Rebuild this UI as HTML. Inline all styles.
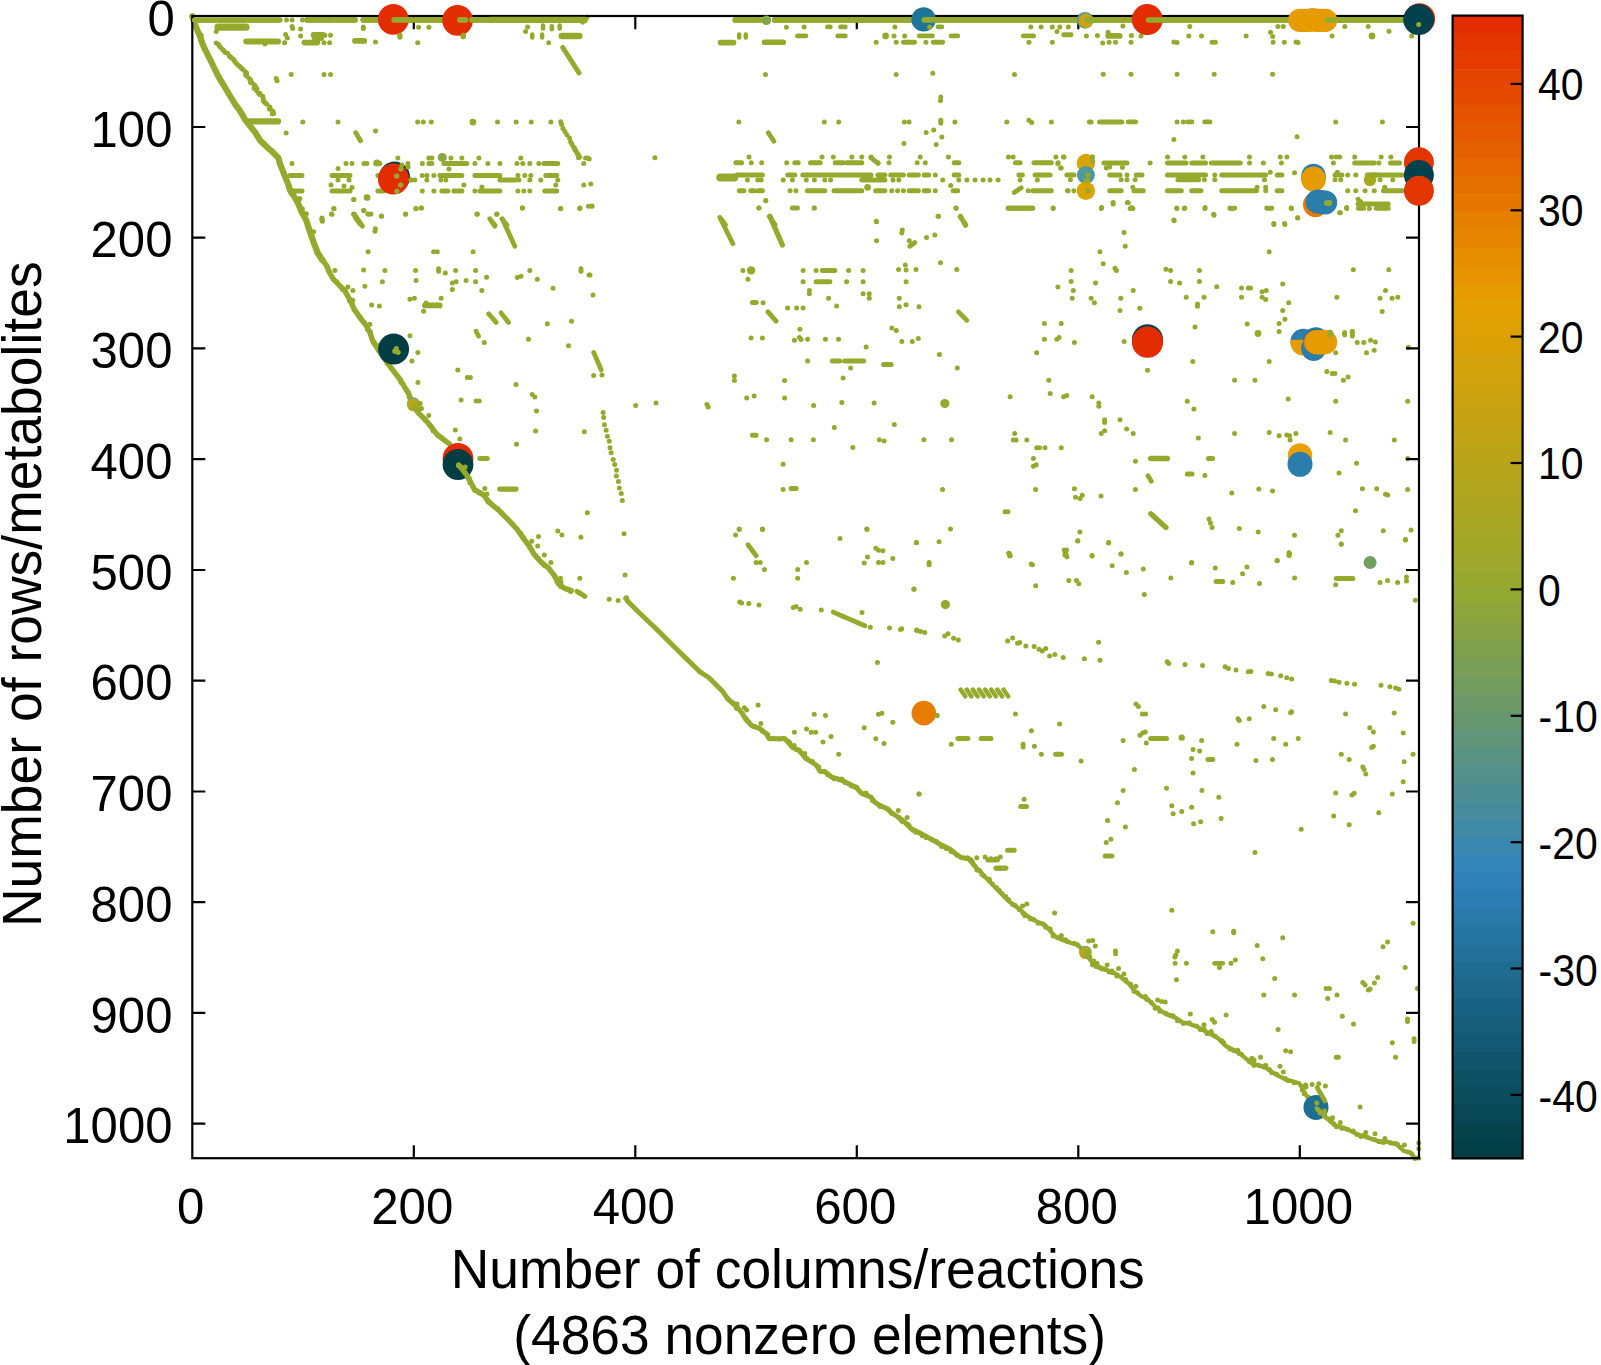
<!DOCTYPE html><html><head><meta charset="utf-8"><title>Sparsity pattern</title>
<style>html,body{margin:0;padding:0;background:#fff}svg{display:block}text{font-family:"Liberation Sans",sans-serif;fill:#000}</style></head><body>
<svg width="1601" height="1365" viewBox="0 0 1601 1365">
<rect width="1601" height="1365" fill="#fff"/>
<g fill="#95A92D">
<circle cx="286.5" cy="19.9" r="2.5"/>
<circle cx="292.1" cy="19.9" r="2.5"/>
<circle cx="302.4" cy="19.9" r="2.5"/>
<circle cx="216.2" cy="31.5" r="2.5"/>
<circle cx="201.2" cy="35.3" r="2.5"/>
<circle cx="265" cy="44.1" r="2.5"/>
<circle cx="285.6" cy="34.4" r="2.5"/>
<circle cx="287.4" cy="38.1" r="2.5"/>
<circle cx="284.6" cy="42.8" r="2.5"/>
<circle cx="292.1" cy="26.5" r="2.5"/>
<circle cx="292.7" cy="28.4" r="2.5"/>
<circle cx="300.6" cy="29.1" r="2.5"/>
<circle cx="300.6" cy="35.9" r="2.5"/>
<circle cx="324.9" cy="35.3" r="2.5"/>
<circle cx="330.5" cy="35.3" r="2.5"/>
<circle cx="324" cy="42.8" r="2.5"/>
<circle cx="329.6" cy="42.8" r="2.5"/>
<circle cx="375.5" cy="41.9" r="2.5"/>
<circle cx="363.3" cy="26.9" r="2.5"/>
<circle cx="363.3" cy="28.4" r="2.5"/>
<circle cx="399.9" cy="35.3" r="2.5"/>
<circle cx="399.9" cy="37.2" r="2.5"/>
<circle cx="417.7" cy="42.8" r="2.5"/>
<circle cx="418.6" cy="27.2" r="2.5"/>
<circle cx="428.9" cy="27.2" r="2.5"/>
<circle cx="463.2" cy="35.3" r="2.5"/>
<circle cx="463.2" cy="36.8" r="2.5"/>
<circle cx="216.2" cy="42.9" r="2.5"/>
<circle cx="218.3" cy="44.3" r="2.5"/>
<circle cx="219.4" cy="46.1" r="2.5"/>
<circle cx="220.6" cy="47.5" r="2.5"/>
<circle cx="222.7" cy="49.5" r="2.5"/>
<circle cx="223.6" cy="50.4" r="2.5"/>
<circle cx="225.2" cy="52.6" r="2.5"/>
<circle cx="227.5" cy="53.3" r="2.5"/>
<circle cx="229.4" cy="56" r="2.5"/>
<circle cx="230.6" cy="57.1" r="2.5"/>
<circle cx="231.6" cy="58" r="2.5"/>
<circle cx="233.6" cy="59.6" r="2.5"/>
<circle cx="234.8" cy="61.4" r="2.5"/>
<circle cx="236.2" cy="63.3" r="2.5"/>
<circle cx="238.3" cy="65.3" r="2.5"/>
<circle cx="239.9" cy="66.6" r="2.5"/>
<circle cx="241.5" cy="68.2" r="2.5"/>
<circle cx="243" cy="69.4" r="2.5"/>
<circle cx="245.2" cy="71.8" r="2.5"/>
<circle cx="246.6" cy="73" r="2.5"/>
<circle cx="245.7" cy="74.9" r="2.5"/>
<circle cx="246.8" cy="76" r="2.5"/>
<circle cx="249.2" cy="78.4" r="2.5"/>
<circle cx="250.5" cy="79.9" r="2.5"/>
<circle cx="251.9" cy="82.6" r="2.5"/>
<circle cx="250.5" cy="82.5" r="2.5"/>
<circle cx="254" cy="84.7" r="2.5"/>
<circle cx="255.3" cy="86.1" r="2.5"/>
<circle cx="254.1" cy="88.2" r="2.5"/>
<circle cx="257.1" cy="88.8" r="2.5"/>
<circle cx="256.4" cy="90.5" r="2.5"/>
<circle cx="259.8" cy="93.2" r="2.5"/>
<circle cx="258.7" cy="93.4" r="2.5"/>
<circle cx="259.8" cy="94.4" r="2.5"/>
<circle cx="262.7" cy="96.3" r="2.5"/>
<circle cx="263.2" cy="98.5" r="2.5"/>
<circle cx="263.4" cy="100.8" r="2.5"/>
<circle cx="264.4" cy="102.1" r="2.5"/>
<circle cx="265.5" cy="103" r="2.5"/>
<circle cx="266.8" cy="104.2" r="2.5"/>
<circle cx="269.9" cy="107.1" r="2.5"/>
<circle cx="269.3" cy="108.9" r="2.5"/>
<circle cx="270.2" cy="109.1" r="2.5"/>
<circle cx="273" cy="111.3" r="2.5"/>
<circle cx="272.2" cy="113.7" r="2.5"/>
<circle cx="273.6" cy="113.4" r="2.5"/>
<circle cx="291.2" cy="74.6" r="2.5"/>
<circle cx="324" cy="74.6" r="2.5"/>
<circle cx="330.5" cy="74.6" r="2.5"/>
<circle cx="276.2" cy="78.4" r="2.5"/>
<circle cx="277.1" cy="80.8" r="2.5"/>
<circle cx="302.8" cy="122.1" r="2.5"/>
<circle cx="338" cy="122.1" r="2.5"/>
<circle cx="417.7" cy="122.1" r="2.5"/>
<circle cx="423.3" cy="122.1" r="2.5"/>
<circle cx="431.3" cy="122.1" r="2.5"/>
<circle cx="286.1" cy="133.1" r="2.5"/>
<circle cx="375.5" cy="130.9" r="2.5"/>
<circle cx="472.9" cy="122.1" r="3.4"/>
<circle cx="518.1" cy="19.9" r="3.2"/>
<circle cx="751.4" cy="19.4" r="3"/>
<circle cx="527.5" cy="26.9" r="2.5"/>
<circle cx="525.6" cy="31.5" r="2.5"/>
<circle cx="548.7" cy="42.8" r="2.5"/>
<circle cx="786.4" cy="27.2" r="2.5"/>
<circle cx="765.5" cy="74.6" r="2.5"/>
<circle cx="738.8" cy="122.1" r="2.5"/>
<circle cx="654.9" cy="157.7" r="2.5"/>
<circle cx="497.5" cy="122.1" r="2.5"/>
<circle cx="516.2" cy="122.1" r="2.5"/>
<circle cx="531.2" cy="122.1" r="2.5"/>
<circle cx="550.9" cy="122.1" r="2.5"/>
<circle cx="585.6" cy="158" r="2.5"/>
<circle cx="589.3" cy="159" r="2.5"/>
<circle cx="560.7" cy="121.8" r="2.5"/>
<circle cx="561.6" cy="124.6" r="2.5"/>
<circle cx="563" cy="128.6" r="2.5"/>
<circle cx="565" cy="131.8" r="2.5"/>
<circle cx="566.9" cy="134.7" r="2.5"/>
<circle cx="569.5" cy="138" r="2.5"/>
<circle cx="570.6" cy="141.8" r="2.5"/>
<circle cx="571.7" cy="143.8" r="2.5"/>
<circle cx="574.5" cy="148" r="2.5"/>
<circle cx="575.2" cy="150.2" r="2.5"/>
<circle cx="577.7" cy="154.6" r="2.5"/>
<circle cx="578.5" cy="157.8" r="2.5"/>
<circle cx="804.1" cy="26.9" r="2.5"/>
<circle cx="894.9" cy="26.9" r="2.5"/>
<circle cx="929.6" cy="26.9" r="2.5"/>
<circle cx="1030.8" cy="26.9" r="2.5"/>
<circle cx="1041.1" cy="26.9" r="2.5"/>
<circle cx="1052.3" cy="26.9" r="2.5"/>
<circle cx="1059.8" cy="26.9" r="2.5"/>
<circle cx="1068.3" cy="26.9" r="2.5"/>
<circle cx="894" cy="35.9" r="2.5"/>
<circle cx="904.7" cy="35.9" r="2.5"/>
<circle cx="1086.4" cy="35.9" r="2.5"/>
<circle cx="885.6" cy="35.9" r="3.4"/>
<circle cx="1057" cy="31.5" r="2.5"/>
<circle cx="876.2" cy="42.2" r="2.5"/>
<circle cx="896.2" cy="42.2" r="2.5"/>
<circle cx="925.9" cy="42.2" r="2.5"/>
<circle cx="1028.9" cy="42.2" r="2.5"/>
<circle cx="1052.3" cy="42.2" r="2.5"/>
<circle cx="896.2" cy="74.6" r="2.5"/>
<circle cx="932.8" cy="73.3" r="2.5"/>
<circle cx="1014.5" cy="74.6" r="2.5"/>
<circle cx="940.8" cy="97.1" r="2.5"/>
<circle cx="940.5" cy="100.5" r="2.5"/>
<circle cx="824.3" cy="122.1" r="2.5"/>
<circle cx="838.7" cy="122.1" r="2.5"/>
<circle cx="904.3" cy="122.1" r="2.5"/>
<circle cx="909" cy="122.1" r="2.5"/>
<circle cx="954.9" cy="122.1" r="2.5"/>
<circle cx="1006.8" cy="122.1" r="2.5"/>
<circle cx="1028.9" cy="120.2" r="2.5"/>
<circle cx="1031.7" cy="122.4" r="2.5"/>
<circle cx="1051.4" cy="122.1" r="2.5"/>
<circle cx="1089.4" cy="122.1" r="2.5"/>
<circle cx="926.2" cy="132.4" r="2.5"/>
<circle cx="933.7" cy="129.9" r="2.5"/>
<circle cx="941.8" cy="136.9" r="2.5"/>
<circle cx="903.9" cy="143.4" r="2.5"/>
<circle cx="936.2" cy="144.4" r="2.5"/>
<circle cx="1122.9" cy="25.9" r="2.5"/>
<circle cx="1189.8" cy="26.6" r="2.5"/>
<circle cx="1277.9" cy="26.6" r="2.5"/>
<circle cx="1283.3" cy="26.6" r="2.5"/>
<circle cx="1344.8" cy="26.6" r="2.5"/>
<circle cx="1368.2" cy="26.6" r="2.5"/>
<circle cx="1389" cy="31.2" r="2.5"/>
<circle cx="1097.4" cy="35.5" r="2.5"/>
<circle cx="1108.1" cy="32.3" r="2.5"/>
<circle cx="1131.4" cy="35.5" r="2.5"/>
<circle cx="1141" cy="35.9" r="2.5"/>
<circle cx="1188.8" cy="35.9" r="2.5"/>
<circle cx="1201.5" cy="35.9" r="2.5"/>
<circle cx="1246.1" cy="35.9" r="2.5"/>
<circle cx="1270.5" cy="32.3" r="2.5"/>
<circle cx="1272.6" cy="36.5" r="2.5"/>
<circle cx="1332.1" cy="35.9" r="2.5"/>
<circle cx="1411.7" cy="35.9" r="2.5"/>
<circle cx="1102.7" cy="42.9" r="2.5"/>
<circle cx="1109.1" cy="42.3" r="2.5"/>
<circle cx="1115.5" cy="42.3" r="2.5"/>
<circle cx="1131" cy="42.3" r="2.5"/>
<circle cx="1173.9" cy="41.9" r="2.5"/>
<circle cx="1177.1" cy="42.5" r="2.5"/>
<circle cx="1212.1" cy="42.3" r="2.5"/>
<circle cx="1215.3" cy="42.3" r="2.5"/>
<circle cx="1273.1" cy="42.3" r="2.5"/>
<circle cx="1284.3" cy="42.3" r="2.5"/>
<circle cx="1296" cy="41.9" r="2.5"/>
<circle cx="1298.1" cy="42.5" r="2.5"/>
<circle cx="1372" cy="35.9" r="3.4"/>
<circle cx="1103.2" cy="74.3" r="2.5"/>
<circle cx="1131" cy="74.3" r="2.5"/>
<circle cx="1177.1" cy="74.3" r="2.5"/>
<circle cx="1214.2" cy="74.3" r="2.5"/>
<circle cx="1272.6" cy="74.3" r="2.5"/>
<circle cx="1335.7" cy="121.9" r="2.5"/>
<circle cx="1382.4" cy="121.9" r="2.5"/>
<circle cx="1173.9" cy="139.5" r="2.5"/>
<circle cx="1297.1" cy="136.8" r="2.5"/>
<circle cx="1091.1" cy="121.9" r="2.5"/>
<circle cx="1177.1" cy="121.9" r="2.5"/>
<circle cx="1183.4" cy="121.9" r="2.5"/>
<circle cx="397.9" cy="158" r="2.5"/>
<circle cx="428.9" cy="158" r="2.5"/>
<circle cx="431.9" cy="158" r="2.5"/>
<circle cx="450.9" cy="158" r="2.5"/>
<circle cx="461.9" cy="158" r="2.5"/>
<circle cx="478.9" cy="158" r="2.5"/>
<circle cx="520.8" cy="158" r="2.5"/>
<circle cx="587.8" cy="158" r="2.5"/>
<circle cx="292" cy="163.4" r="2.5"/>
<circle cx="346" cy="163.4" r="2.5"/>
<circle cx="352" cy="163.4" r="2.5"/>
<circle cx="363.9" cy="163.4" r="2.5"/>
<circle cx="366.9" cy="163.4" r="2.5"/>
<circle cx="407.9" cy="163.4" r="2.5"/>
<circle cx="422.3" cy="163.4" r="2.5"/>
<circle cx="474.9" cy="163.4" r="2.5"/>
<circle cx="487.9" cy="163.4" r="2.5"/>
<circle cx="499.9" cy="163.4" r="2.5"/>
<circle cx="516.9" cy="163.4" r="2.5"/>
<circle cx="522.8" cy="163.4" r="2.5"/>
<circle cx="529.8" cy="163.4" r="2.5"/>
<circle cx="538.8" cy="163.4" r="2.5"/>
<circle cx="583.8" cy="163.4" r="2.5"/>
<circle cx="377.9" cy="175.4" r="2.5"/>
<circle cx="422.3" cy="175.4" r="2.5"/>
<circle cx="426.9" cy="175.4" r="2.5"/>
<circle cx="433.9" cy="175.4" r="2.5"/>
<circle cx="517.9" cy="175.4" r="2.5"/>
<circle cx="524.8" cy="175.4" r="2.5"/>
<circle cx="530.8" cy="175.4" r="2.5"/>
<circle cx="338" cy="180" r="2.5"/>
<circle cx="349" cy="180" r="2.5"/>
<circle cx="410.9" cy="180" r="2.5"/>
<circle cx="414.9" cy="180" r="2.5"/>
<circle cx="426.9" cy="180" r="2.5"/>
<circle cx="440.9" cy="180" r="2.5"/>
<circle cx="445.9" cy="180" r="2.5"/>
<circle cx="518.9" cy="180" r="2.5"/>
<circle cx="529.8" cy="180" r="2.5"/>
<circle cx="540.8" cy="180" r="2.5"/>
<circle cx="557.8" cy="180" r="2.5"/>
<circle cx="422.3" cy="191" r="2.5"/>
<circle cx="433.9" cy="191" r="2.5"/>
<circle cx="474.9" cy="191" r="2.5"/>
<circle cx="517.9" cy="191" r="2.5"/>
<circle cx="523.8" cy="191" r="2.5"/>
<circle cx="529.8" cy="191" r="2.5"/>
<circle cx="338" cy="168.6" r="2.5"/>
<circle cx="448.9" cy="169" r="2.5"/>
<circle cx="344" cy="186" r="2.5"/>
<circle cx="352" cy="187.4" r="2.5"/>
<circle cx="331" cy="185" r="2.5"/>
<circle cx="463.9" cy="185" r="2.5"/>
<circle cx="481.9" cy="187" r="2.5"/>
<circle cx="555.8" cy="185" r="2.5"/>
<circle cx="583.8" cy="185" r="2.5"/>
<circle cx="590.8" cy="184" r="2.5"/>
<circle cx="354" cy="199.4" r="2.5"/>
<circle cx="400.9" cy="169" r="2.5"/>
<circle cx="407.9" cy="167" r="2.5"/>
<circle cx="396.9" cy="176" r="2.5"/>
<circle cx="400.9" cy="185" r="2.5"/>
<circle cx="396.9" cy="191" r="2.5"/>
<circle cx="366.9" cy="197.4" r="3.2"/>
<circle cx="376.9" cy="163" r="3.4"/>
<circle cx="334" cy="208.6" r="2.5"/>
<circle cx="331.6" cy="214" r="2.5"/>
<circle cx="322" cy="218" r="2.5"/>
<circle cx="322" cy="220.6" r="2.5"/>
<circle cx="363.9" cy="210.6" r="2.5"/>
<circle cx="354" cy="214" r="2.5"/>
<circle cx="367.9" cy="214" r="2.5"/>
<circle cx="370.9" cy="214" r="2.5"/>
<circle cx="381.5" cy="216" r="2.5"/>
<circle cx="405.5" cy="214" r="2.5"/>
<circle cx="415.9" cy="208.6" r="2.5"/>
<circle cx="421.5" cy="208" r="2.5"/>
<circle cx="476.9" cy="214" r="2.5"/>
<circle cx="496.9" cy="214" r="2.5"/>
<circle cx="522.4" cy="208" r="2.5"/>
<circle cx="560.8" cy="208.6" r="2.5"/>
<circle cx="579.8" cy="208.6" r="2.5"/>
<circle cx="591.8" cy="206" r="2.5"/>
<circle cx="749" cy="157" r="2.5"/>
<circle cx="822" cy="157" r="2.5"/>
<circle cx="833.3" cy="157" r="2.5"/>
<circle cx="851.8" cy="157" r="2.5"/>
<circle cx="861.8" cy="157" r="2.5"/>
<circle cx="871" cy="157" r="2.5"/>
<circle cx="889.5" cy="157" r="2.5"/>
<circle cx="920.2" cy="157" r="2.5"/>
<circle cx="948.4" cy="157" r="2.5"/>
<circle cx="1008.5" cy="157" r="2.5"/>
<circle cx="1013.1" cy="157" r="2.5"/>
<circle cx="1055.9" cy="157" r="2.5"/>
<circle cx="1064" cy="157" r="2.5"/>
<circle cx="751.3" cy="162.8" r="2.5"/>
<circle cx="761.7" cy="162.8" r="2.5"/>
<circle cx="786.7" cy="162.8" r="2.5"/>
<circle cx="878" cy="162.8" r="2.5"/>
<circle cx="889" cy="162.8" r="2.5"/>
<circle cx="917.2" cy="162.8" r="2.5"/>
<circle cx="925.3" cy="162.8" r="2.5"/>
<circle cx="1058.2" cy="162.8" r="2.5"/>
<circle cx="935.3" cy="175" r="2.5"/>
<circle cx="747.4" cy="180.1" r="2.5"/>
<circle cx="757.8" cy="180.1" r="2.5"/>
<circle cx="761.2" cy="180.1" r="2.5"/>
<circle cx="783.2" cy="180.1" r="2.5"/>
<circle cx="792.4" cy="180.1" r="2.5"/>
<circle cx="806.3" cy="180.1" r="2.5"/>
<circle cx="814.4" cy="180.1" r="2.5"/>
<circle cx="824.8" cy="180.1" r="2.5"/>
<circle cx="830.6" cy="180.1" r="2.5"/>
<circle cx="893" cy="180.1" r="2.5"/>
<circle cx="898.8" cy="180.1" r="2.5"/>
<circle cx="942.7" cy="180.1" r="2.5"/>
<circle cx="958.8" cy="180.1" r="2.5"/>
<circle cx="966.9" cy="180.1" r="2.5"/>
<circle cx="975" cy="180.1" r="2.5"/>
<circle cx="983.1" cy="180.1" r="2.5"/>
<circle cx="990" cy="180.1" r="2.5"/>
<circle cx="998.1" cy="180.1" r="2.5"/>
<circle cx="1020.1" cy="180.1" r="2.5"/>
<circle cx="1037.4" cy="180.1" r="2.5"/>
<circle cx="790.1" cy="190.8" r="2.5"/>
<circle cx="795.9" cy="190.8" r="2.5"/>
<circle cx="891.8" cy="190.8" r="2.5"/>
<circle cx="897.6" cy="190.8" r="2.5"/>
<circle cx="903.4" cy="190.8" r="2.5"/>
<circle cx="935.3" cy="190.8" r="2.5"/>
<circle cx="1028.2" cy="190.8" r="2.5"/>
<circle cx="1067.5" cy="190.8" r="2.5"/>
<circle cx="867.6" cy="187.3" r="3.4"/>
<circle cx="758.9" cy="207.9" r="2.5"/>
<circle cx="814.4" cy="207.9" r="2.5"/>
<circle cx="956.1" cy="207.9" r="2.5"/>
<circle cx="1053.1" cy="207.9" r="2.5"/>
<circle cx="765.9" cy="200.5" r="2.5"/>
<circle cx="950.7" cy="185.4" r="2.5"/>
<circle cx="938" cy="216.2" r="2.5"/>
<circle cx="876.3" cy="221.3" r="2.5"/>
<circle cx="1057.8" cy="163.5" r="2.5"/>
<circle cx="1060.5" cy="168.1" r="2.5"/>
<circle cx="1063.5" cy="157" r="2.5"/>
<circle cx="1092.4" cy="157" r="2.5"/>
<circle cx="1167.5" cy="157" r="2.5"/>
<circle cx="1184.8" cy="157" r="2.5"/>
<circle cx="1202.8" cy="157" r="2.5"/>
<circle cx="1249.5" cy="157" r="2.5"/>
<circle cx="1280.2" cy="157" r="2.5"/>
<circle cx="1286.9" cy="157" r="2.5"/>
<circle cx="1331.5" cy="157" r="2.5"/>
<circle cx="1336.2" cy="157" r="2.5"/>
<circle cx="1339.6" cy="157" r="2.5"/>
<circle cx="1354.7" cy="157" r="2.5"/>
<circle cx="1381.2" cy="157" r="2.5"/>
<circle cx="1390.9" cy="157" r="2.5"/>
<circle cx="1150.1" cy="163" r="2.5"/>
<circle cx="1249.5" cy="163" r="2.5"/>
<circle cx="1263.4" cy="163" r="2.5"/>
<circle cx="1281.4" cy="163" r="2.5"/>
<circle cx="1333.4" cy="163" r="2.5"/>
<circle cx="1378.9" cy="163" r="2.5"/>
<circle cx="1106.2" cy="168.1" r="2.5"/>
<circle cx="1109.7" cy="167" r="2.5"/>
<circle cx="1122.4" cy="167.6" r="2.5"/>
<circle cx="1092.4" cy="161.2" r="2.5"/>
<circle cx="1061.2" cy="168.1" r="2.5"/>
<circle cx="1127" cy="175" r="2.5"/>
<circle cx="1214.8" cy="175" r="2.5"/>
<circle cx="1347.7" cy="175" r="2.5"/>
<circle cx="1355.8" cy="175" r="2.5"/>
<circle cx="1294.6" cy="172.7" r="2.5"/>
<circle cx="1270.3" cy="172.3" r="2.5"/>
<circle cx="1070.4" cy="179.7" r="2.5"/>
<circle cx="1087.7" cy="179.7" r="2.5"/>
<circle cx="1121.2" cy="179.7" r="2.5"/>
<circle cx="1127" cy="179.7" r="2.5"/>
<circle cx="1135.1" cy="179.7" r="2.5"/>
<circle cx="1204.4" cy="179.7" r="2.5"/>
<circle cx="1214.8" cy="179.7" r="2.5"/>
<circle cx="1264.5" cy="179.7" r="2.5"/>
<circle cx="1335" cy="179.7" r="2.5"/>
<circle cx="1340.8" cy="179.7" r="2.5"/>
<circle cx="1380.1" cy="179.7" r="2.5"/>
<circle cx="1392.8" cy="179.7" r="2.5"/>
<circle cx="1068.1" cy="190.8" r="2.5"/>
<circle cx="1073.9" cy="190.8" r="2.5"/>
<circle cx="1265.7" cy="190.8" r="2.5"/>
<circle cx="1347.7" cy="190.8" r="2.5"/>
<circle cx="1355.8" cy="190.8" r="2.5"/>
<circle cx="1365.1" cy="190.8" r="2.5"/>
<circle cx="1374.3" cy="190.8" r="2.5"/>
<circle cx="1132.8" cy="187.3" r="2.5"/>
<circle cx="1257.1" cy="187.3" r="2.5"/>
<circle cx="1265.7" cy="187.3" r="2.5"/>
<circle cx="1337.3" cy="172.3" r="2.5"/>
<circle cx="1384.7" cy="187.3" r="2.5"/>
<circle cx="1101.6" cy="207.4" r="2.5"/>
<circle cx="1113.2" cy="203.9" r="2.5"/>
<circle cx="1128.2" cy="202.8" r="2.5"/>
<circle cx="1131.6" cy="207.4" r="2.5"/>
<circle cx="1176.7" cy="207.9" r="2.5"/>
<circle cx="1184.8" cy="207.9" r="2.5"/>
<circle cx="1205.1" cy="207.4" r="2.5"/>
<circle cx="1229.9" cy="207.9" r="2.5"/>
<circle cx="1234.5" cy="207.9" r="2.5"/>
<circle cx="1266.8" cy="207.9" r="2.5"/>
<circle cx="1271.5" cy="207.9" r="2.5"/>
<circle cx="1291.1" cy="207.9" r="2.5"/>
<circle cx="1346.6" cy="207.4" r="2.5"/>
<circle cx="1339.6" cy="212.7" r="2.5"/>
<circle cx="1213.7" cy="214.3" r="2.5"/>
<circle cx="1173.9" cy="220.1" r="2.5"/>
<circle cx="1297.6" cy="217.8" r="2.5"/>
<circle cx="1273.8" cy="223.6" r="2.5"/>
<circle cx="1284.6" cy="223.6" r="2.5"/>
<circle cx="1358.1" cy="199.3" r="2.5"/>
<circle cx="1360.4" cy="201.6" r="2.5"/>
<circle cx="1361.6" cy="206.9" r="2.5"/>
<circle cx="353.6" cy="199.5" r="2.5"/>
<circle cx="333.7" cy="208.7" r="2.5"/>
<circle cx="331.9" cy="214.2" r="2.5"/>
<circle cx="321.9" cy="218.7" r="2.5"/>
<circle cx="322.4" cy="221.2" r="2.5"/>
<circle cx="353.6" cy="214.2" r="2.5"/>
<circle cx="363.6" cy="210.5" r="2.5"/>
<circle cx="369.4" cy="214.2" r="2.5"/>
<circle cx="381.6" cy="216.2" r="2.5"/>
<circle cx="405.6" cy="214.2" r="2.5"/>
<circle cx="416.1" cy="208.7" r="2.5"/>
<circle cx="421.1" cy="208" r="2.5"/>
<circle cx="375.4" cy="228.7" r="2.5"/>
<circle cx="374.9" cy="231.2" r="2.5"/>
<circle cx="477.3" cy="214.2" r="2.5"/>
<circle cx="496.8" cy="214.2" r="2.5"/>
<circle cx="522.3" cy="208" r="2.5"/>
<circle cx="560.5" cy="208.7" r="2.5"/>
<circle cx="579.8" cy="208" r="2.5"/>
<circle cx="588.5" cy="206.2" r="2.5"/>
<circle cx="368.1" cy="251.7" r="2.5"/>
<circle cx="433.6" cy="251.7" r="2.5"/>
<circle cx="437.3" cy="251.7" r="2.5"/>
<circle cx="473.1" cy="251.7" r="2.5"/>
<circle cx="334.9" cy="270.4" r="2.5"/>
<circle cx="363.6" cy="270" r="2.5"/>
<circle cx="384.9" cy="270.4" r="2.5"/>
<circle cx="415.6" cy="270.4" r="2.5"/>
<circle cx="438.6" cy="268.7" r="2.5"/>
<circle cx="438.6" cy="271.2" r="2.5"/>
<circle cx="445.3" cy="272.9" r="2.5"/>
<circle cx="455.6" cy="270.4" r="2.5"/>
<circle cx="475.6" cy="270.4" r="2.5"/>
<circle cx="486.6" cy="277.2" r="2.5"/>
<circle cx="517.3" cy="277.4" r="2.5"/>
<circle cx="521" cy="276.2" r="2.5"/>
<circle cx="529.8" cy="270.4" r="2.5"/>
<circle cx="537.3" cy="279.2" r="2.5"/>
<circle cx="581" cy="268.7" r="2.5"/>
<circle cx="581" cy="271.2" r="2.5"/>
<circle cx="589" cy="274.9" r="2.5"/>
<circle cx="382.4" cy="281.7" r="2.5"/>
<circle cx="416.1" cy="280.4" r="2.5"/>
<circle cx="452.3" cy="282.9" r="2.5"/>
<circle cx="456.1" cy="281.7" r="2.5"/>
<circle cx="466.1" cy="280.4" r="2.5"/>
<circle cx="475.6" cy="281.7" r="2.5"/>
<circle cx="452.3" cy="289.4" r="2.5"/>
<circle cx="481.8" cy="290.4" r="2.5"/>
<circle cx="553" cy="288.2" r="2.5"/>
<circle cx="347.9" cy="286.9" r="2.5"/>
<circle cx="352.9" cy="290.4" r="2.5"/>
<circle cx="364.9" cy="286.2" r="2.5"/>
<circle cx="409.9" cy="299.2" r="2.5"/>
<circle cx="414.4" cy="298.2" r="2.5"/>
<circle cx="441.1" cy="298.2" r="2.5"/>
<circle cx="371.6" cy="304.9" r="2.5"/>
<circle cx="379.4" cy="305.9" r="2.5"/>
<circle cx="426.1" cy="302.9" r="2.5"/>
<circle cx="423.6" cy="311.2" r="2.5"/>
<circle cx="547.3" cy="323.7" r="2.5"/>
<circle cx="571.5" cy="321.2" r="2.5"/>
<circle cx="528.5" cy="339.2" r="2.5"/>
<circle cx="568.5" cy="345.7" r="2.5"/>
<circle cx="484.3" cy="342.4" r="2.5"/>
<circle cx="409.9" cy="335.7" r="2.5"/>
<circle cx="417.9" cy="352.4" r="2.5"/>
<circle cx="411.9" cy="361.1" r="2.5"/>
<circle cx="457.8" cy="369.9" r="2.5"/>
<circle cx="467.3" cy="377.4" r="2.5"/>
<circle cx="470.3" cy="377.4" r="2.5"/>
<circle cx="417.9" cy="382.4" r="2.5"/>
<circle cx="516" cy="384.4" r="2.5"/>
<circle cx="461.1" cy="399.9" r="2.5"/>
<circle cx="476.1" cy="401.1" r="2.5"/>
<circle cx="479.3" cy="401.1" r="2.5"/>
<circle cx="532.3" cy="394.4" r="2.5"/>
<circle cx="534.8" cy="396.9" r="2.5"/>
<circle cx="536.5" cy="411.1" r="2.5"/>
<circle cx="419.9" cy="403.6" r="2.5"/>
<circle cx="455.3" cy="429.9" r="2.5"/>
<circle cx="459.8" cy="439.1" r="2.5"/>
<circle cx="535.5" cy="431.1" r="2.5"/>
<circle cx="584.3" cy="431.8" r="2.5"/>
<circle cx="516.5" cy="444.3" r="2.5"/>
<circle cx="587.3" cy="512.8" r="2.5"/>
<circle cx="484.8" cy="488.6" r="2.5"/>
<circle cx="302.4" cy="208.7" r="2.5"/>
<circle cx="298.7" cy="200" r="2.5"/>
<circle cx="367.4" cy="197.5" r="3.1"/>
<circle cx="603.1" cy="412.5" r="2.5"/>
<circle cx="603.7" cy="417.6" r="2.5"/>
<circle cx="604.4" cy="424.8" r="2.5"/>
<circle cx="606.1" cy="430.2" r="2.5"/>
<circle cx="607.4" cy="436.2" r="2.5"/>
<circle cx="609.3" cy="441.2" r="2.5"/>
<circle cx="610" cy="447.7" r="2.5"/>
<circle cx="611.1" cy="452.7" r="2.5"/>
<circle cx="613.2" cy="459.6" r="2.5"/>
<circle cx="614.7" cy="464.5" r="2.5"/>
<circle cx="616.5" cy="470.2" r="2.5"/>
<circle cx="616.4" cy="476.1" r="2.5"/>
<circle cx="618.4" cy="481.6" r="2.5"/>
<circle cx="619.3" cy="487.9" r="2.5"/>
<circle cx="621.3" cy="493.4" r="2.5"/>
<circle cx="622.3" cy="500.4" r="2.5"/>
<circle cx="751.1" cy="270.4" r="4.2"/>
<circle cx="944.8" cy="403.6" r="4.6"/>
<circle cx="592" cy="206.2" r="2.5"/>
<circle cx="590" cy="274.9" r="2.5"/>
<circle cx="593" cy="294.9" r="2.5"/>
<circle cx="593.7" cy="375.6" r="2.5"/>
<circle cx="602" cy="374.9" r="2.5"/>
<circle cx="635.7" cy="405.4" r="2.5"/>
<circle cx="656" cy="403.1" r="2.5"/>
<circle cx="706.9" cy="404.4" r="2.5"/>
<circle cx="708.2" cy="406.9" r="2.5"/>
<circle cx="734.4" cy="376.1" r="2.5"/>
<circle cx="734.4" cy="380.4" r="2.5"/>
<circle cx="746.7" cy="397.9" r="2.5"/>
<circle cx="754.1" cy="396.1" r="2.5"/>
<circle cx="765.6" cy="200.7" r="2.5"/>
<circle cx="758.9" cy="208" r="2.5"/>
<circle cx="814.1" cy="208" r="2.5"/>
<circle cx="876.6" cy="221.7" r="2.5"/>
<circle cx="876.6" cy="240.7" r="2.5"/>
<circle cx="902.3" cy="230" r="2.5"/>
<circle cx="901.8" cy="233" r="2.5"/>
<circle cx="909.3" cy="240.7" r="2.5"/>
<circle cx="926.5" cy="237.5" r="2.5"/>
<circle cx="934.8" cy="235" r="2.5"/>
<circle cx="938.5" cy="216.2" r="2.5"/>
<circle cx="956" cy="208.2" r="2.5"/>
<circle cx="940.5" cy="262.7" r="2.5"/>
<circle cx="956.8" cy="269.5" r="2.5"/>
<circle cx="742.9" cy="270.4" r="2.5"/>
<circle cx="747.9" cy="279.2" r="2.5"/>
<circle cx="803.1" cy="270.4" r="2.5"/>
<circle cx="816.1" cy="270.4" r="2.5"/>
<circle cx="848.6" cy="270.4" r="2.5"/>
<circle cx="863.1" cy="270.4" r="2.5"/>
<circle cx="898.6" cy="269.5" r="2.5"/>
<circle cx="905.3" cy="265" r="2.5"/>
<circle cx="906.1" cy="270" r="2.5"/>
<circle cx="916" cy="269.5" r="2.5"/>
<circle cx="803.1" cy="281.7" r="2.5"/>
<circle cx="846.6" cy="281.7" r="2.5"/>
<circle cx="863.1" cy="281.7" r="2.5"/>
<circle cx="906.1" cy="281.7" r="2.5"/>
<circle cx="809.4" cy="290.4" r="2.5"/>
<circle cx="809.4" cy="293.7" r="2.5"/>
<circle cx="863.1" cy="293.7" r="2.5"/>
<circle cx="869.3" cy="293.7" r="2.5"/>
<circle cx="869.3" cy="298.2" r="2.5"/>
<circle cx="828.6" cy="298.2" r="2.5"/>
<circle cx="836.6" cy="305.9" r="2.5"/>
<circle cx="899.3" cy="298.2" r="2.5"/>
<circle cx="899.3" cy="306.7" r="2.5"/>
<circle cx="906.1" cy="304.7" r="2.5"/>
<circle cx="919" cy="306.7" r="2.5"/>
<circle cx="763.1" cy="302.7" r="2.5"/>
<circle cx="787.6" cy="307.9" r="2.5"/>
<circle cx="796.6" cy="307.9" r="2.5"/>
<circle cx="803.1" cy="307.9" r="2.5"/>
<circle cx="799.9" cy="329.2" r="2.5"/>
<circle cx="891.8" cy="327.9" r="2.5"/>
<circle cx="896.3" cy="330.4" r="2.5"/>
<circle cx="751.1" cy="337.9" r="2.5"/>
<circle cx="762.4" cy="337.9" r="2.5"/>
<circle cx="794.4" cy="340.2" r="2.5"/>
<circle cx="799.4" cy="337.4" r="2.5"/>
<circle cx="801.1" cy="339.4" r="2.5"/>
<circle cx="807.6" cy="339.2" r="2.5"/>
<circle cx="825.4" cy="339.2" r="2.5"/>
<circle cx="838.6" cy="339.2" r="2.5"/>
<circle cx="866.1" cy="346.9" r="2.5"/>
<circle cx="901.8" cy="341.4" r="2.5"/>
<circle cx="912.3" cy="341.4" r="2.5"/>
<circle cx="918.3" cy="338.4" r="2.5"/>
<circle cx="939.5" cy="354.6" r="2.5"/>
<circle cx="957.3" cy="367.9" r="2.5"/>
<circle cx="807.6" cy="361.1" r="2.5"/>
<circle cx="850.6" cy="367.9" r="2.5"/>
<circle cx="843.1" cy="377.9" r="2.5"/>
<circle cx="784.6" cy="380.4" r="2.5"/>
<circle cx="784.6" cy="398.1" r="2.5"/>
<circle cx="813.6" cy="405.4" r="2.5"/>
<circle cx="841.8" cy="402.4" r="2.5"/>
<circle cx="874.1" cy="403.1" r="2.5"/>
<circle cx="894.3" cy="424.4" r="2.5"/>
<circle cx="834.3" cy="427.6" r="2.5"/>
<circle cx="766.6" cy="439.8" r="2.5"/>
<circle cx="791.1" cy="439.8" r="2.5"/>
<circle cx="813.4" cy="439.8" r="2.5"/>
<circle cx="879.3" cy="439.8" r="2.5"/>
<circle cx="884.1" cy="441.1" r="2.5"/>
<circle cx="923.8" cy="439.8" r="2.5"/>
<circle cx="951.5" cy="439.8" r="2.5"/>
<circle cx="852.8" cy="447.6" r="2.5"/>
<circle cx="783.1" cy="464.3" r="2.5"/>
<circle cx="783.1" cy="489.6" r="2.5"/>
<circle cx="942.5" cy="489.6" r="2.5"/>
<circle cx="739.2" cy="529" r="2.5"/>
<circle cx="762.4" cy="529" r="2.5"/>
<circle cx="866.8" cy="529" r="2.5"/>
<circle cx="950.5" cy="529" r="2.5"/>
<circle cx="1053.2" cy="208.4" r="2.5"/>
<circle cx="1101.3" cy="208.4" r="2.5"/>
<circle cx="1130.2" cy="208.4" r="2.5"/>
<circle cx="1132.9" cy="208.4" r="2.5"/>
<circle cx="1176.9" cy="208.4" r="2.5"/>
<circle cx="1184.3" cy="208.4" r="2.5"/>
<circle cx="1204.9" cy="208.4" r="2.5"/>
<circle cx="1230.5" cy="208.4" r="2.5"/>
<circle cx="1233.2" cy="208.4" r="2.5"/>
<circle cx="1291.5" cy="208.4" r="2.5"/>
<circle cx="1346.7" cy="208.4" r="2.5"/>
<circle cx="1369.3" cy="208.4" r="2.5"/>
<circle cx="1113.1" cy="202.4" r="2.5"/>
<circle cx="1127.4" cy="202.4" r="2.5"/>
<circle cx="1359.6" cy="202.4" r="2.5"/>
<circle cx="1214" cy="215.3" r="2.5"/>
<circle cx="1174.1" cy="220.8" r="2.5"/>
<circle cx="1273.9" cy="224.4" r="2.5"/>
<circle cx="1284.9" cy="224.4" r="2.5"/>
<circle cx="1297.8" cy="218" r="2.5"/>
<circle cx="1340.4" cy="212.8" r="2.5"/>
<circle cx="1209" cy="519" r="2.5"/>
<circle cx="1210.4" cy="523.1" r="2.5"/>
<circle cx="1212.1" cy="527.5" r="2.5"/>
<circle cx="1258" cy="333.5" r="3.4"/>
<circle cx="1124.1" cy="232.6" r="2.5"/>
<circle cx="1125.2" cy="246.3" r="2.5"/>
<circle cx="1099.9" cy="251.8" r="2.5"/>
<circle cx="1269.2" cy="251.8" r="2.5"/>
<circle cx="1103.2" cy="263.7" r="2.5"/>
<circle cx="1071.1" cy="270.5" r="2.5"/>
<circle cx="1115" cy="268.3" r="2.5"/>
<circle cx="1116.4" cy="270.5" r="2.5"/>
<circle cx="1165.9" cy="269.2" r="2.5"/>
<circle cx="1170.6" cy="270.5" r="2.5"/>
<circle cx="1199.4" cy="270.5" r="2.5"/>
<circle cx="1353.3" cy="269.7" r="2.5"/>
<circle cx="1388.8" cy="269.7" r="2.5"/>
<circle cx="1071.1" cy="281.5" r="2.5"/>
<circle cx="1095.5" cy="282.9" r="2.5"/>
<circle cx="1170.6" cy="281.5" r="2.5"/>
<circle cx="1179.6" cy="282.9" r="2.5"/>
<circle cx="1199.4" cy="281.5" r="2.5"/>
<circle cx="1282.7" cy="284" r="2.5"/>
<circle cx="1057.9" cy="287" r="2.5"/>
<circle cx="1073.3" cy="290.6" r="2.5"/>
<circle cx="1133.2" cy="290.6" r="2.5"/>
<circle cx="1216.7" cy="286.7" r="2.5"/>
<circle cx="1241.5" cy="288.1" r="2.5"/>
<circle cx="1248.3" cy="288.1" r="2.5"/>
<circle cx="1250.5" cy="288.1" r="2.5"/>
<circle cx="1262.1" cy="291.7" r="2.5"/>
<circle cx="1266.2" cy="290.6" r="2.5"/>
<circle cx="1385.5" cy="290.6" r="2.5"/>
<circle cx="1072.2" cy="298.3" r="2.5"/>
<circle cx="1091.1" cy="298.3" r="2.5"/>
<circle cx="1094.4" cy="302.7" r="2.5"/>
<circle cx="1120.8" cy="298.3" r="2.5"/>
<circle cx="1186.2" cy="297.2" r="2.5"/>
<circle cx="1204.1" cy="297.2" r="2.5"/>
<circle cx="1197.5" cy="304.1" r="2.5"/>
<circle cx="1197.5" cy="306.3" r="2.5"/>
<circle cx="1241.5" cy="297.2" r="2.5"/>
<circle cx="1262.1" cy="297.2" r="2.5"/>
<circle cx="1265.7" cy="299.4" r="2.5"/>
<circle cx="1288.7" cy="302.7" r="2.5"/>
<circle cx="1336.8" cy="297.2" r="2.5"/>
<circle cx="1380" cy="298.3" r="2.5"/>
<circle cx="1392.1" cy="298.3" r="2.5"/>
<circle cx="1397.8" cy="297.2" r="2.5"/>
<circle cx="1120" cy="310.4" r="2.5"/>
<circle cx="1139.8" cy="308.2" r="2.5"/>
<circle cx="1282.7" cy="310.4" r="2.5"/>
<circle cx="1382.2" cy="311.5" r="2.5"/>
<circle cx="1284.9" cy="319.2" r="2.5"/>
<circle cx="1044.4" cy="323.6" r="2.5"/>
<circle cx="1061.2" cy="323.6" r="2.5"/>
<circle cx="1195" cy="326.9" r="2.5"/>
<circle cx="1247.2" cy="324.1" r="2.5"/>
<circle cx="1279.1" cy="323.6" r="2.5"/>
<circle cx="1279.1" cy="331.5" r="2.5"/>
<circle cx="1330.8" cy="333.5" r="2.5"/>
<circle cx="1344.5" cy="333.5" r="2.5"/>
<circle cx="1352.2" cy="331.5" r="2.5"/>
<circle cx="1352.2" cy="334.8" r="2.5"/>
<circle cx="1044.4" cy="339.2" r="2.5"/>
<circle cx="1056.8" cy="339.2" r="2.5"/>
<circle cx="1059" cy="337.6" r="2.5"/>
<circle cx="1074.4" cy="342.5" r="2.5"/>
<circle cx="1124.1" cy="341.4" r="2.5"/>
<circle cx="1357.2" cy="342.5" r="2.5"/>
<circle cx="1363.8" cy="342.5" r="2.5"/>
<circle cx="1370.6" cy="340.3" r="2.5"/>
<circle cx="1375.3" cy="342" r="2.5"/>
<circle cx="1335.7" cy="352.7" r="2.5"/>
<circle cx="1366.5" cy="352.7" r="2.5"/>
<circle cx="1374.2" cy="350.2" r="2.5"/>
<circle cx="1408.3" cy="347.2" r="2.5"/>
<circle cx="1036.7" cy="352.7" r="2.5"/>
<circle cx="1192.8" cy="361.5" r="2.5"/>
<circle cx="1269.2" cy="361.5" r="2.5"/>
<circle cx="1147.5" cy="370.3" r="2.5"/>
<circle cx="1326.9" cy="371.4" r="2.5"/>
<circle cx="1332.2" cy="373.6" r="2.5"/>
<circle cx="1334.9" cy="373.6" r="2.5"/>
<circle cx="1348.1" cy="376.9" r="2.5"/>
<circle cx="1343.4" cy="380.2" r="2.5"/>
<circle cx="1048.8" cy="380.2" r="2.5"/>
<circle cx="1234.6" cy="380.2" r="2.5"/>
<circle cx="1254.9" cy="380.2" r="2.5"/>
<circle cx="1010.1" cy="396.7" r="2.5"/>
<circle cx="1050.2" cy="393.6" r="2.5"/>
<circle cx="1063.7" cy="396.7" r="2.5"/>
<circle cx="1066.7" cy="395.6" r="2.5"/>
<circle cx="1092.2" cy="396.7" r="2.5"/>
<circle cx="1098.8" cy="403" r="2.5"/>
<circle cx="1098.8" cy="406.3" r="2.5"/>
<circle cx="1187.3" cy="401.3" r="2.5"/>
<circle cx="1193.9" cy="409" r="2.5"/>
<circle cx="1288.2" cy="398.9" r="2.5"/>
<circle cx="1335.7" cy="401.3" r="2.5"/>
<circle cx="1407.7" cy="401.3" r="2.5"/>
<circle cx="1104.6" cy="419.8" r="2.5"/>
<circle cx="1104.6" cy="422.5" r="2.5"/>
<circle cx="1120" cy="419.8" r="2.5"/>
<circle cx="1126.6" cy="429.1" r="2.5"/>
<circle cx="1133.2" cy="433.5" r="2.5"/>
<circle cx="1104.6" cy="430.7" r="2.5"/>
<circle cx="1101.3" cy="433.5" r="2.5"/>
<circle cx="1014.7" cy="433.5" r="2.5"/>
<circle cx="1013.4" cy="440.1" r="2.5"/>
<circle cx="1016.1" cy="440.1" r="2.5"/>
<circle cx="1026.8" cy="440.1" r="2.5"/>
<circle cx="1198.3" cy="437.9" r="2.5"/>
<circle cx="1234.6" cy="433.5" r="2.5"/>
<circle cx="1269.2" cy="432.4" r="2.5"/>
<circle cx="1279.1" cy="435.7" r="2.5"/>
<circle cx="1286.8" cy="435.1" r="2.5"/>
<circle cx="1289.6" cy="435.7" r="2.5"/>
<circle cx="1295.9" cy="433.5" r="2.5"/>
<circle cx="1290.1" cy="440.1" r="2.5"/>
<circle cx="1330.2" cy="432.4" r="2.5"/>
<circle cx="1345.6" cy="440.1" r="2.5"/>
<circle cx="1394.3" cy="440.1" r="2.5"/>
<circle cx="1036.7" cy="447.8" r="2.5"/>
<circle cx="1039.5" cy="447.8" r="2.5"/>
<circle cx="1045" cy="447.8" r="2.5"/>
<circle cx="1061.2" cy="447.8" r="2.5"/>
<circle cx="1033.4" cy="458.5" r="2.5"/>
<circle cx="1033.4" cy="466.2" r="2.5"/>
<circle cx="1036.2" cy="464.8" r="2.5"/>
<circle cx="1135.4" cy="461.3" r="2.5"/>
<circle cx="1356.6" cy="463.2" r="2.5"/>
<circle cx="1407.7" cy="458.5" r="2.5"/>
<circle cx="1339" cy="473.1" r="2.5"/>
<circle cx="1204.9" cy="475.5" r="2.5"/>
<circle cx="1035.6" cy="489.6" r="2.5"/>
<circle cx="1074.4" cy="488.7" r="2.5"/>
<circle cx="1075.5" cy="497.3" r="2.5"/>
<circle cx="1080.1" cy="498.4" r="2.5"/>
<circle cx="1082.3" cy="495.3" r="2.5"/>
<circle cx="1101" cy="495.9" r="2.5"/>
<circle cx="1135.4" cy="489.6" r="2.5"/>
<circle cx="1231.8" cy="493.1" r="2.5"/>
<circle cx="1258.8" cy="489" r="2.5"/>
<circle cx="1272.5" cy="490.9" r="2.5"/>
<circle cx="1362.4" cy="488.7" r="2.5"/>
<circle cx="1376.7" cy="488.7" r="2.5"/>
<circle cx="1385.5" cy="494.2" r="2.5"/>
<circle cx="1387.7" cy="495.1" r="2.5"/>
<circle cx="1407.7" cy="489.6" r="2.5"/>
<circle cx="1005.1" cy="511.8" r="2.5"/>
<circle cx="1007.9" cy="511.8" r="2.5"/>
<circle cx="1355.5" cy="510.7" r="2.5"/>
<circle cx="1079.9" cy="531.9" r="2.5"/>
<circle cx="1077.7" cy="540.7" r="2.5"/>
<circle cx="1108.7" cy="542.9" r="2.5"/>
<circle cx="1239.3" cy="528.6" r="2.5"/>
<circle cx="1258.2" cy="531.9" r="2.5"/>
<circle cx="1294.5" cy="535.2" r="2.5"/>
<circle cx="1341.2" cy="530.8" r="2.5"/>
<circle cx="1337.9" cy="535.2" r="2.5"/>
<circle cx="1341.2" cy="544.3" r="2.5"/>
<circle cx="1383.3" cy="530.8" r="2.5"/>
<circle cx="1411" cy="530" r="2.5"/>
<circle cx="1405.5" cy="539.6" r="2.5"/>
<circle cx="1008.7" cy="553.3" r="2.5"/>
<circle cx="1009.8" cy="556.1" r="2.5"/>
<circle cx="1092.2" cy="556.1" r="2.5"/>
<circle cx="1120.8" cy="554.1" r="2.5"/>
<circle cx="1289" cy="552.8" r="2.5"/>
<circle cx="1289" cy="555.5" r="2.5"/>
<circle cx="1277.2" cy="560.7" r="2.5"/>
<circle cx="1191.7" cy="562.9" r="2.5"/>
<circle cx="1031.2" cy="564" r="2.5"/>
<circle cx="739.7" cy="601.9" r="2.5"/>
<circle cx="741.6" cy="603" r="2.5"/>
<circle cx="793.3" cy="607.4" r="2.5"/>
<circle cx="796.1" cy="606.6" r="2.5"/>
<circle cx="800.2" cy="609.3" r="2.5"/>
<circle cx="821.3" cy="610.1" r="2.5"/>
<circle cx="842.8" cy="616.2" r="2.5"/>
<circle cx="870.3" cy="627.2" r="2.5"/>
<circle cx="889.5" cy="628" r="2.5"/>
<circle cx="900.5" cy="629.4" r="2.5"/>
<circle cx="917" cy="630.5" r="2.5"/>
<circle cx="609.2" cy="599.2" r="2.5"/>
<circle cx="618.2" cy="600.5" r="2.5"/>
<circle cx="626.5" cy="597.8" r="2.5"/>
<circle cx="538.5" cy="536.5" r="2.5"/>
<circle cx="557.8" cy="531" r="2.5"/>
<circle cx="561.9" cy="535.1" r="2.5"/>
<circle cx="580.9" cy="537.3" r="2.5"/>
<circle cx="624" cy="533.7" r="2.5"/>
<circle cx="537.7" cy="546.1" r="2.5"/>
<circle cx="544.3" cy="554.9" r="2.5"/>
<circle cx="550.9" cy="562.6" r="2.5"/>
<circle cx="560.5" cy="578.3" r="2.5"/>
<circle cx="579.8" cy="578.3" r="2.5"/>
<circle cx="625.1" cy="575" r="2.5"/>
<circle cx="570.7" cy="591.5" r="2.5"/>
<circle cx="578.9" cy="592.8" r="2.5"/>
<circle cx="739.2" cy="529.6" r="2.5"/>
<circle cx="762.5" cy="529.6" r="2.5"/>
<circle cx="735.6" cy="535.1" r="2.5"/>
<circle cx="756.2" cy="562.6" r="2.5"/>
<circle cx="760.3" cy="562.6" r="2.5"/>
<circle cx="764.4" cy="569.5" r="2.5"/>
<circle cx="733.4" cy="578.3" r="2.5"/>
<circle cx="797.7" cy="569.5" r="2.5"/>
<circle cx="806.5" cy="562.6" r="2.5"/>
<circle cx="797.7" cy="578.3" r="2.5"/>
<circle cx="840" cy="538.4" r="2.5"/>
<circle cx="867" cy="529.6" r="2.5"/>
<circle cx="875.8" cy="548.3" r="2.5"/>
<circle cx="878.5" cy="550.2" r="2.5"/>
<circle cx="882.9" cy="550.8" r="2.5"/>
<circle cx="867.5" cy="557.1" r="2.5"/>
<circle cx="864.2" cy="563.1" r="2.5"/>
<circle cx="878.5" cy="562.6" r="2.5"/>
<circle cx="882.9" cy="562.6" r="2.5"/>
<circle cx="892.8" cy="558.5" r="2.5"/>
<circle cx="916.2" cy="542.8" r="2.5"/>
<circle cx="914" cy="589.3" r="2.5"/>
<circle cx="748.8" cy="603.5" r="2.5"/>
<circle cx="759" cy="604.9" r="2.5"/>
<circle cx="862" cy="612.6" r="2.5"/>
<circle cx="877.4" cy="662.4" r="2.5"/>
<circle cx="758.1" cy="705" r="2.5"/>
<circle cx="744.4" cy="707.7" r="2.5"/>
<circle cx="737" cy="704.1" r="2.5"/>
<circle cx="760.9" cy="723.4" r="2.5"/>
<circle cx="814.2" cy="714.3" r="2.5"/>
<circle cx="825.5" cy="715.4" r="2.5"/>
<circle cx="794.4" cy="732.2" r="2.5"/>
<circle cx="806.5" cy="728.9" r="2.5"/>
<circle cx="811.2" cy="732.2" r="2.5"/>
<circle cx="815.6" cy="732.2" r="2.5"/>
<circle cx="831" cy="736.6" r="2.5"/>
<circle cx="823" cy="742.1" r="2.5"/>
<circle cx="838.7" cy="754.2" r="2.5"/>
<circle cx="864.2" cy="727.8" r="2.5"/>
<circle cx="875.8" cy="738.8" r="2.5"/>
<circle cx="884" cy="743.4" r="2.5"/>
<circle cx="878.5" cy="714.3" r="2.5"/>
<circle cx="881.8" cy="713.2" r="2.5"/>
<circle cx="892.8" cy="722.3" r="2.5"/>
<circle cx="918.9" cy="794" r="2.5"/>
<circle cx="898.3" cy="810.5" r="2.5"/>
<circle cx="907.1" cy="817.4" r="2.5"/>
<circle cx="945.4" cy="604.6" r="4.6"/>
<circle cx="901.7" cy="628.7" r="2.5"/>
<circle cx="916.6" cy="630" r="2.5"/>
<circle cx="920.5" cy="631.4" r="2.5"/>
<circle cx="924.8" cy="632.4" r="2.5"/>
<circle cx="944.7" cy="636" r="2.5"/>
<circle cx="948" cy="633.7" r="2.5"/>
<circle cx="953.6" cy="638.3" r="2.5"/>
<circle cx="958.3" cy="640" r="2.5"/>
<circle cx="1007.6" cy="641" r="2.5"/>
<circle cx="1012.6" cy="638" r="2.5"/>
<circle cx="1017.5" cy="643.3" r="2.5"/>
<circle cx="1019.8" cy="642.6" r="2.5"/>
<circle cx="1025.8" cy="645.9" r="2.5"/>
<circle cx="1034.1" cy="646.6" r="2.5"/>
<circle cx="1039" cy="649.2" r="2.5"/>
<circle cx="1042.3" cy="650.9" r="2.5"/>
<circle cx="1045.7" cy="648.6" r="2.5"/>
<circle cx="1049.6" cy="655.9" r="2.5"/>
<circle cx="1054.9" cy="654.5" r="2.5"/>
<circle cx="1063.2" cy="657.5" r="2.5"/>
<circle cx="1084.4" cy="658.8" r="2.5"/>
<circle cx="1100" cy="660.2" r="2.5"/>
<circle cx="1167.2" cy="661.8" r="2.5"/>
<circle cx="1168.8" cy="663.5" r="2.5"/>
<circle cx="1185" cy="664.5" r="2.5"/>
<circle cx="1202.6" cy="665.5" r="2.5"/>
<circle cx="1225.1" cy="666.8" r="2.5"/>
<circle cx="1228.4" cy="668.4" r="2.5"/>
<circle cx="1236" cy="670.1" r="2.5"/>
<circle cx="1248.3" cy="671.8" r="2.5"/>
<circle cx="1250.9" cy="671.4" r="2.5"/>
<circle cx="1268.1" cy="673.4" r="2.5"/>
<circle cx="1271.4" cy="674.1" r="2.5"/>
<circle cx="1280.7" cy="675.7" r="2.5"/>
<circle cx="1286.7" cy="677.7" r="2.5"/>
<circle cx="1291.6" cy="679" r="2.5"/>
<circle cx="1331.3" cy="680.4" r="2.5"/>
<circle cx="1334.7" cy="681" r="2.5"/>
<circle cx="1339" cy="682.3" r="2.5"/>
<circle cx="1346.9" cy="683.3" r="2.5"/>
<circle cx="1354.5" cy="684.3" r="2.5"/>
<circle cx="1381" cy="685.3" r="2.5"/>
<circle cx="1389.9" cy="686.7" r="2.5"/>
<circle cx="1395.6" cy="688" r="2.5"/>
<circle cx="1398.9" cy="689.3" r="2.5"/>
<circle cx="1181.7" cy="737.6" r="3.2"/>
<circle cx="976.8" cy="857.8" r="2.5"/>
<circle cx="985.1" cy="857.1" r="2.5"/>
<circle cx="991" cy="858.8" r="2.5"/>
<circle cx="996" cy="858.8" r="2.5"/>
<circle cx="1000.3" cy="857.1" r="2.5"/>
<circle cx="916.6" cy="542.6" r="2.5"/>
<circle cx="939.1" cy="541.7" r="2.5"/>
<circle cx="1077.8" cy="541" r="2.5"/>
<circle cx="1108.6" cy="542.6" r="2.5"/>
<circle cx="1341.3" cy="544" r="2.5"/>
<circle cx="1405.5" cy="540" r="2.5"/>
<circle cx="929.1" cy="562.5" r="2.5"/>
<circle cx="929.1" cy="564.8" r="2.5"/>
<circle cx="1009.2" cy="553.2" r="2.5"/>
<circle cx="1010.2" cy="555.6" r="2.5"/>
<circle cx="1032.4" cy="564.8" r="2.5"/>
<circle cx="1066.5" cy="549.9" r="2.5"/>
<circle cx="1064.9" cy="554.9" r="2.5"/>
<circle cx="1092" cy="555.6" r="2.5"/>
<circle cx="1121.1" cy="553.9" r="2.5"/>
<circle cx="1112.2" cy="565.8" r="2.5"/>
<circle cx="1126.4" cy="572.4" r="2.5"/>
<circle cx="1143.3" cy="569.1" r="2.5"/>
<circle cx="1191.6" cy="562.5" r="2.5"/>
<circle cx="1215.2" cy="568.1" r="2.5"/>
<circle cx="1246.9" cy="567.1" r="2.5"/>
<circle cx="1242.6" cy="573.8" r="2.5"/>
<circle cx="1277.1" cy="560.5" r="2.5"/>
<circle cx="1289.3" cy="553.2" r="2.5"/>
<circle cx="1289.3" cy="554.9" r="2.5"/>
<circle cx="913.9" cy="589" r="2.5"/>
<circle cx="1035.7" cy="585.7" r="2.5"/>
<circle cx="1068.8" cy="580.4" r="2.5"/>
<circle cx="1076.4" cy="580.4" r="2.5"/>
<circle cx="1078.8" cy="583.7" r="2.5"/>
<circle cx="1144.3" cy="594.6" r="2.5"/>
<circle cx="1170.8" cy="578.1" r="2.5"/>
<circle cx="1232.7" cy="582.4" r="2.5"/>
<circle cx="1259.5" cy="583.4" r="2.5"/>
<circle cx="1294.6" cy="578.1" r="2.5"/>
<circle cx="1335.7" cy="584.7" r="2.5"/>
<circle cx="1380" cy="582.4" r="2.5"/>
<circle cx="1387.6" cy="580.4" r="2.5"/>
<circle cx="1397.6" cy="582.4" r="2.5"/>
<circle cx="1406.5" cy="577.1" r="2.5"/>
<circle cx="1406.5" cy="581" r="2.5"/>
<circle cx="1415.4" cy="600.2" r="2.5"/>
<circle cx="1098.6" cy="642.3" r="2.5"/>
<circle cx="937.1" cy="715.5" r="2.5"/>
<circle cx="1015.5" cy="714.1" r="2.5"/>
<circle cx="1031.4" cy="730.7" r="2.5"/>
<circle cx="1059.6" cy="724.1" r="2.5"/>
<circle cx="951.3" cy="744.3" r="2.5"/>
<circle cx="1023.1" cy="744.3" r="2.5"/>
<circle cx="1023.1" cy="746.9" r="2.5"/>
<circle cx="1034.4" cy="746.2" r="2.5"/>
<circle cx="1041.4" cy="754.2" r="2.5"/>
<circle cx="1081.1" cy="761.1" r="2.5"/>
<circle cx="1136" cy="703.9" r="2.5"/>
<circle cx="1138.4" cy="706.5" r="2.5"/>
<circle cx="1142.3" cy="714.1" r="2.5"/>
<circle cx="1145.6" cy="714.1" r="2.5"/>
<circle cx="1140" cy="735.3" r="2.5"/>
<circle cx="1142.7" cy="733" r="2.5"/>
<circle cx="1145.3" cy="732" r="2.5"/>
<circle cx="1123.1" cy="740.6" r="2.5"/>
<circle cx="1146.3" cy="742.9" r="2.5"/>
<circle cx="1134.4" cy="769.4" r="2.5"/>
<circle cx="1201.6" cy="740.6" r="2.5"/>
<circle cx="1193" cy="749.6" r="2.5"/>
<circle cx="1199.6" cy="750.9" r="2.5"/>
<circle cx="1191.6" cy="758.5" r="2.5"/>
<circle cx="1193" cy="773.1" r="2.5"/>
<circle cx="1238" cy="718.8" r="2.5"/>
<circle cx="1239.3" cy="720.4" r="2.5"/>
<circle cx="1249.3" cy="718.8" r="2.5"/>
<circle cx="1263.8" cy="706.5" r="2.5"/>
<circle cx="1275.7" cy="709.8" r="2.5"/>
<circle cx="1290.6" cy="712.8" r="2.5"/>
<circle cx="1291.6" cy="711.8" r="2.5"/>
<circle cx="1237" cy="744.3" r="2.5"/>
<circle cx="1273.7" cy="738.6" r="2.5"/>
<circle cx="1285.7" cy="744.3" r="2.5"/>
<circle cx="1298.2" cy="738.6" r="2.5"/>
<circle cx="1255.9" cy="760.5" r="2.5"/>
<circle cx="1272.4" cy="759.5" r="2.5"/>
<circle cx="1345.6" cy="714.1" r="2.5"/>
<circle cx="1394.2" cy="713.1" r="2.5"/>
<circle cx="1369.8" cy="727.7" r="2.5"/>
<circle cx="1373.4" cy="732" r="2.5"/>
<circle cx="1371.7" cy="747.6" r="2.5"/>
<circle cx="1373.4" cy="746.2" r="2.5"/>
<circle cx="1403.2" cy="733" r="2.5"/>
<circle cx="1341.3" cy="754.2" r="2.5"/>
<circle cx="1349.2" cy="759.5" r="2.5"/>
<circle cx="1362.8" cy="767.1" r="2.5"/>
<circle cx="1364.1" cy="769.4" r="2.5"/>
<circle cx="1365.8" cy="774" r="2.5"/>
<circle cx="1413.1" cy="754.2" r="2.5"/>
<circle cx="1404.2" cy="761.8" r="2.5"/>
<circle cx="1403.2" cy="781.7" r="2.5"/>
<circle cx="919.2" cy="793.9" r="2.5"/>
<circle cx="1024.1" cy="799.2" r="2.5"/>
<circle cx="1123.1" cy="790.6" r="2.5"/>
<circle cx="1117.5" cy="802.8" r="2.5"/>
<circle cx="1166.5" cy="788.3" r="2.5"/>
<circle cx="1201.9" cy="790.6" r="2.5"/>
<circle cx="1218.8" cy="797.2" r="2.5"/>
<circle cx="1171.8" cy="805.8" r="2.5"/>
<circle cx="1173.1" cy="813.8" r="2.5"/>
<circle cx="1181.7" cy="811.5" r="2.5"/>
<circle cx="1191.6" cy="807.2" r="2.5"/>
<circle cx="1193.6" cy="823.7" r="2.5"/>
<circle cx="1200.6" cy="821.7" r="2.5"/>
<circle cx="1221.1" cy="818.4" r="2.5"/>
<circle cx="1107.6" cy="820.4" r="2.5"/>
<circle cx="1125.4" cy="827" r="2.5"/>
<circle cx="1110.9" cy="839.3" r="2.5"/>
<circle cx="1106.2" cy="842.6" r="2.5"/>
<circle cx="1335.7" cy="792.9" r="2.5"/>
<circle cx="1351.9" cy="794.9" r="2.5"/>
<circle cx="1354.2" cy="793.2" r="2.5"/>
<circle cx="1392.3" cy="793.9" r="2.5"/>
<circle cx="1333.7" cy="816.1" r="2.5"/>
<circle cx="1349.2" cy="824.7" r="2.5"/>
<circle cx="1378.7" cy="812.8" r="2.5"/>
<circle cx="1301.2" cy="829.3" r="2.5"/>
<circle cx="1254.9" cy="852.5" r="2.5"/>
<circle cx="1026.8" cy="904" r="2.5"/>
<circle cx="1054.6" cy="913" r="2.5"/>
<circle cx="1171.8" cy="910.3" r="2.5"/>
<circle cx="1212.8" cy="931.8" r="2.5"/>
<circle cx="1233.7" cy="931.2" r="2.5"/>
<circle cx="1233.7" cy="932.8" r="2.5"/>
<circle cx="1257.2" cy="945.4" r="2.5"/>
<circle cx="1282.7" cy="937.8" r="2.5"/>
<circle cx="1262.8" cy="958.7" r="2.5"/>
<circle cx="1115.5" cy="951" r="2.5"/>
<circle cx="1115.5" cy="953.7" r="2.5"/>
<circle cx="1177.4" cy="951" r="2.5"/>
<circle cx="1175.8" cy="955" r="2.5"/>
<circle cx="1174.8" cy="957" r="2.5"/>
<circle cx="1175.1" cy="963.3" r="2.5"/>
<circle cx="1186.4" cy="963.3" r="2.5"/>
<circle cx="1176.4" cy="979.8" r="2.5"/>
<circle cx="1219.5" cy="967.6" r="2.5"/>
<circle cx="1231" cy="963.3" r="2.5"/>
<circle cx="1235.3" cy="960" r="2.5"/>
<circle cx="1274.7" cy="978.5" r="2.5"/>
<circle cx="1263.8" cy="995.1" r="2.5"/>
<circle cx="1294.6" cy="995.1" r="2.5"/>
<circle cx="1326.1" cy="988.4" r="2.5"/>
<circle cx="1329.4" cy="988.4" r="2.5"/>
<circle cx="1327.7" cy="998.4" r="2.5"/>
<circle cx="1337" cy="995.1" r="2.5"/>
<circle cx="1362.8" cy="982.5" r="2.5"/>
<circle cx="1365.1" cy="985.1" r="2.5"/>
<circle cx="1368.4" cy="990.1" r="2.5"/>
<circle cx="1370.1" cy="989.1" r="2.5"/>
<circle cx="1374.4" cy="983.1" r="2.5"/>
<circle cx="1377.7" cy="977.5" r="2.5"/>
<circle cx="1383" cy="946.7" r="2.5"/>
<circle cx="1387.6" cy="942.1" r="2.5"/>
<circle cx="1413.1" cy="923.2" r="2.5"/>
<circle cx="1405.2" cy="967.6" r="2.5"/>
<circle cx="1417.4" cy="988.4" r="2.5"/>
<circle cx="1342.3" cy="1016.3" r="2.5"/>
<circle cx="1353.5" cy="1023.9" r="2.5"/>
<circle cx="1407.5" cy="1018.9" r="2.5"/>
<circle cx="1407.5" cy="1021.5" r="2.5"/>
<circle cx="1414.1" cy="1038.8" r="2.5"/>
<circle cx="1414.1" cy="1041.4" r="2.5"/>
<circle cx="1392.3" cy="1042.7" r="2.5"/>
<circle cx="1395.6" cy="1057.3" r="2.5"/>
<circle cx="1278.1" cy="1029.5" r="2.5"/>
<circle cx="1285.7" cy="1050.7" r="2.5"/>
<circle cx="1290.6" cy="1051.7" r="2.5"/>
<circle cx="1336.3" cy="1057.3" r="2.5"/>
<circle cx="1338.3" cy="1057.3" r="2.5"/>
<circle cx="1260.5" cy="1057.3" r="2.5"/>
<circle cx="1280" cy="1066.2" r="2.5"/>
<circle cx="1283.3" cy="1071.9" r="2.5"/>
<circle cx="1226.1" cy="1014.9" r="2.5"/>
<circle cx="1190.3" cy="1013.9" r="2.5"/>
<circle cx="1212.2" cy="1019.6" r="2.5"/>
<circle cx="1214.5" cy="1022.2" r="2.5"/>
<circle cx="1157.6" cy="1000" r="2.5"/>
<circle cx="1161.5" cy="1001.4" r="2.5"/>
<circle cx="1165.2" cy="1002" r="2.5"/>
<circle cx="1360.1" cy="1107" r="2.5"/>
<circle cx="1340.3" cy="1122.5" r="2.5"/>
<circle cx="1365.8" cy="1132.4" r="2.5"/>
<circle cx="1375" cy="1133.8" r="2.5"/>
<circle cx="1418.7" cy="1143" r="2.5"/>
<circle cx="1418.7" cy="1148.7" r="2.5"/>
<circle cx="1305.5" cy="1085.1" r="2.5"/>
<circle cx="1312.1" cy="1084.4" r="2.5"/>
<circle cx="1318.8" cy="1083.8" r="2.5"/>
<circle cx="1325.4" cy="1086.1" r="2.5"/>
<circle cx="1088.7" cy="941.1" r="2.5"/>
<circle cx="1092.7" cy="940.4" r="2.5"/>
<circle cx="1095.3" cy="946.1" r="2.5"/>
<circle cx="1093.7" cy="961" r="2.5"/>
<circle cx="1097" cy="963.3" r="2.5"/>
<circle cx="1105.2" cy="969.2" r="2.5"/>
<circle cx="1111.9" cy="970.9" r="2.5"/>
<circle cx="1118.5" cy="968.6" r="2.5"/>
<circle cx="1116.8" cy="975.9" r="2.5"/>
<circle cx="1237.7" cy="1050.3" r="2.5"/>
<circle cx="1250.9" cy="1061.9" r="2.5"/>
<circle cx="1254.2" cy="1065.2" r="2.5"/>
<circle cx="299.8" cy="198.5" r="2.5"/>
<circle cx="306.3" cy="213.8" r="2.5"/>
<circle cx="313.6" cy="231.7" r="2.5"/>
<circle cx="352.8" cy="300.2" r="2.5"/>
<circle cx="369.8" cy="324.2" r="2.5"/>
<circle cx="379.1" cy="345.3" r="2.5"/>
<circle cx="381.4" cy="348.1" r="2.5"/>
<circle cx="421.2" cy="408.6" r="2.5"/>
<circle cx="428.8" cy="415.6" r="2.5"/>
<circle cx="465.2" cy="467.1" r="2.5"/>
<circle cx="486.9" cy="494" r="2.5"/>
<circle cx="531.7" cy="541.2" r="2.5"/>
<circle cx="561" cy="582.3" r="2.5"/>
<circle cx="746.6" cy="710" r="2.5"/>
<circle cx="794.2" cy="745.4" r="2.5"/>
<circle cx="804.8" cy="753.6" r="2.5"/>
<circle cx="866" cy="793" r="2.5"/>
<circle cx="1022.6" cy="906" r="2.5"/>
<circle cx="1061.3" cy="935.5" r="2.5"/>
<circle cx="1086.9" cy="952" r="2.5"/>
<circle cx="1107.1" cy="965" r="2.5"/>
<circle cx="1123.9" cy="974" r="2.5"/>
<circle cx="1135.8" cy="986.2" r="2.5"/>
<circle cx="1204" cy="1024.7" r="2.5"/>
<circle cx="1211.2" cy="1031.4" r="2.5"/>
<circle cx="1252" cy="1058.3" r="2.5"/>
<circle cx="1254" cy="1059.9" r="2.5"/>
<circle cx="1265.8" cy="1065.4" r="2.5"/>
<circle cx="1306" cy="1086.9" r="2.5"/>
<circle cx="1316.8" cy="1102.9" r="2.5"/>
<circle cx="1324.5" cy="1111.1" r="2.5"/>
<circle cx="1324.3" cy="1112.4" r="2.5"/>
<circle cx="1332.5" cy="1117.8" r="2.5"/>
<circle cx="1384.9" cy="1138.4" r="2.5"/>
<circle cx="1404.4" cy="1144.9" r="2.5"/>
<circle cx="259.8" cy="140.4" r="2.5"/>
<circle cx="264.4" cy="143.6" r="2.5"/>
<circle cx="268.1" cy="148.7" r="2.5"/>
<circle cx="272.6" cy="151" r="2.5"/>
<circle cx="279.2" cy="163.4" r="2.5"/>
<circle cx="280.5" cy="165.9" r="2.5"/>
<circle cx="283.6" cy="174.2" r="2.5"/>
<circle cx="288.9" cy="185" r="2.5"/>
<circle cx="289.1" cy="188.3" r="2.5"/>
<circle cx="291.8" cy="194" r="2.5"/>
<circle cx="295.2" cy="197.8" r="2.5"/>
<circle cx="301.1" cy="211.3" r="2.5"/>
<circle cx="303.7" cy="215.6" r="2.5"/>
<circle cx="307.8" cy="226.3" r="2.5"/>
<circle cx="311.9" cy="236.9" r="2.5"/>
<circle cx="314.2" cy="244.7" r="2.5"/>
<circle cx="317" cy="252.6" r="2.5"/>
<circle cx="321.2" cy="259.5" r="2.5"/>
<circle cx="326.6" cy="266.1" r="2.5"/>
<circle cx="328.2" cy="270.3" r="2.5"/>
<circle cx="333.1" cy="278.4" r="2.5"/>
<circle cx="336.7" cy="281.8" r="2.5"/>
<circle cx="342.4" cy="289.5" r="2.5"/>
<circle cx="345.7" cy="291.4" r="2.5"/>
<circle cx="347.5" cy="295.4" r="2.5"/>
<circle cx="349.4" cy="300.8" r="2.5"/>
<circle cx="352.2" cy="304" r="2.5"/>
<circle cx="354.1" cy="309.4" r="2.5"/>
<circle cx="359.8" cy="316.4" r="2.5"/>
<circle cx="360.4" cy="318.1" r="2.5"/>
<circle cx="367.5" cy="329.5" r="2.5"/>
<circle cx="370.5" cy="332.1" r="2.5"/>
<circle cx="374.1" cy="342.2" r="2.5"/>
<circle cx="378.4" cy="350.5" r="2.5"/>
<circle cx="383.2" cy="355.9" r="2.5"/>
<circle cx="384.9" cy="358.6" r="2.5"/>
<circle cx="387.1" cy="363.3" r="2.5"/>
<circle cx="391.6" cy="368.6" r="2.5"/>
<circle cx="399.6" cy="378.7" r="2.5"/>
<circle cx="400.9" cy="382.2" r="2.5"/>
<circle cx="408.4" cy="392.5" r="2.5"/>
<circle cx="409.2" cy="397.2" r="2.5"/>
<circle cx="412.8" cy="403" r="2.5"/>
<circle cx="413.4" cy="407.6" r="2.5"/>
<circle cx="425.3" cy="419.5" r="2.5"/>
<circle cx="429.6" cy="425" r="2.5"/>
<circle cx="433" cy="430.7" r="2.5"/>
<circle cx="441.7" cy="437.5" r="2.5"/>
<circle cx="443.8" cy="439.7" r="2.5"/>
<circle cx="450.8" cy="447.4" r="2.5"/>
<circle cx="455.5" cy="456.8" r="2.5"/>
<circle cx="457.3" cy="459.4" r="2.5"/>
<circle cx="460.7" cy="466.8" r="2.5"/>
<circle cx="467.9" cy="477.1" r="2.5"/>
<circle cx="469.9" cy="482.7" r="2.5"/>
<circle cx="472.6" cy="486.1" r="2.5"/>
<circle cx="475" cy="490.4" r="2.5"/>
<circle cx="478.7" cy="492.7" r="2.5"/>
<circle cx="488.1" cy="501.9" r="2.5"/>
<circle cx="490.2" cy="502.7" r="2.5"/>
<circle cx="498.2" cy="508.9" r="2.5"/>
<circle cx="501.4" cy="512.9" r="2.5"/>
<circle cx="508.4" cy="520.1" r="2.5"/>
<circle cx="512.7" cy="524.1" r="2.5"/>
<circle cx="516.7" cy="528.7" r="2.5"/>
<circle cx="520.9" cy="533.4" r="2.5"/>
<circle cx="523.5" cy="537.5" r="2.5"/>
<circle cx="526.9" cy="542.9" r="2.5"/>
<circle cx="529.9" cy="548" r="2.5"/>
<circle cx="535.4" cy="555.3" r="2.5"/>
<circle cx="538.1" cy="558.3" r="2.5"/>
<circle cx="544.5" cy="565.4" r="2.5"/>
<circle cx="550.5" cy="571" r="2.5"/>
<circle cx="554.8" cy="576.1" r="2.5"/>
<circle cx="560.9" cy="586.8" r="2.5"/>
<circle cx="570" cy="590.5" r="2.5"/>
<circle cx="727.8" cy="698.5" r="2.5"/>
<circle cx="733.7" cy="703.2" r="2.5"/>
<circle cx="736.1" cy="706.1" r="2.5"/>
<circle cx="736.6" cy="708.4" r="2.5"/>
<circle cx="746.1" cy="718.4" r="2.5"/>
<circle cx="748.5" cy="721.5" r="2.5"/>
<circle cx="750.5" cy="724.3" r="2.5"/>
<circle cx="754.9" cy="726.5" r="2.5"/>
<circle cx="762.2" cy="731" r="2.5"/>
<circle cx="767.7" cy="734.6" r="2.5"/>
<circle cx="773.1" cy="738.3" r="2.5"/>
<circle cx="779.5" cy="738.9" r="2.5"/>
<circle cx="783.6" cy="738.3" r="2.5"/>
<circle cx="788.9" cy="741.7" r="2.5"/>
<circle cx="790" cy="743" r="2.5"/>
<circle cx="796.5" cy="749.7" r="2.5"/>
<circle cx="799.6" cy="750.6" r="2.5"/>
<circle cx="805.4" cy="758.1" r="2.5"/>
<circle cx="807" cy="758.4" r="2.5"/>
<circle cx="812.5" cy="761.5" r="2.5"/>
<circle cx="818.7" cy="766.9" r="2.5"/>
<circle cx="824.6" cy="771.6" r="2.5"/>
<circle cx="827.9" cy="774.7" r="2.5"/>
<circle cx="834.1" cy="778.7" r="2.5"/>
<circle cx="837.1" cy="778.4" r="2.5"/>
<circle cx="841.7" cy="779.1" r="2.5"/>
<circle cx="845.1" cy="782.5" r="2.5"/>
<circle cx="851.6" cy="786" r="2.5"/>
<circle cx="854.7" cy="787" r="2.5"/>
<circle cx="856.6" cy="787.2" r="2.5"/>
<circle cx="862.8" cy="794.1" r="2.5"/>
<circle cx="866.9" cy="795.1" r="2.5"/>
<circle cx="872.5" cy="800.4" r="2.5"/>
<circle cx="879" cy="805.3" r="2.5"/>
<circle cx="880.3" cy="806.5" r="2.5"/>
<circle cx="887" cy="808.7" r="2.5"/>
<circle cx="888.7" cy="810" r="2.5"/>
<circle cx="891.4" cy="813.3" r="2.5"/>
<circle cx="898.7" cy="817.5" r="2.5"/>
<circle cx="900.9" cy="820" r="2.5"/>
<circle cx="902.3" cy="821.4" r="2.5"/>
<circle cx="907.8" cy="824.2" r="2.5"/>
<circle cx="909" cy="825.6" r="2.5"/>
<circle cx="913.1" cy="830.3" r="2.5"/>
<circle cx="915.7" cy="832.2" r="2.5"/>
<circle cx="920.1" cy="833.1" r="2.5"/>
<circle cx="922.4" cy="835.7" r="2.5"/>
<circle cx="926.2" cy="837.7" r="2.5"/>
<circle cx="931.9" cy="839.8" r="2.5"/>
<circle cx="936.5" cy="841.5" r="2.5"/>
<circle cx="941.5" cy="846.5" r="2.5"/>
<circle cx="945.4" cy="847.3" r="2.5"/>
<circle cx="946.3" cy="848.4" r="2.5"/>
<circle cx="951.1" cy="851.5" r="2.5"/>
<circle cx="957.3" cy="855.2" r="2.5"/>
<circle cx="967.6" cy="857.7" r="2.5"/>
<circle cx="971.2" cy="860.1" r="2.5"/>
<circle cx="972.5" cy="862" r="2.5"/>
<circle cx="976.9" cy="869.9" r="2.5"/>
<circle cx="979.9" cy="870.7" r="2.5"/>
<circle cx="982" cy="874.4" r="2.5"/>
<circle cx="984.3" cy="876.2" r="2.5"/>
<circle cx="989.3" cy="879.3" r="2.5"/>
<circle cx="989.6" cy="881.3" r="2.5"/>
<circle cx="992.4" cy="883.9" r="2.5"/>
<circle cx="996.8" cy="887.7" r="2.5"/>
<circle cx="999.3" cy="890.6" r="2.5"/>
<circle cx="1002.2" cy="893.8" r="2.5"/>
<circle cx="1005.7" cy="896.4" r="2.5"/>
<circle cx="1008.4" cy="899.6" r="2.5"/>
<circle cx="1012.7" cy="904.4" r="2.5"/>
<circle cx="1015.2" cy="905.6" r="2.5"/>
<circle cx="1019.2" cy="909.6" r="2.5"/>
<circle cx="1022.8" cy="913" r="2.5"/>
<circle cx="1024.8" cy="915.7" r="2.5"/>
<circle cx="1030.6" cy="919.1" r="2.5"/>
<circle cx="1033.7" cy="919.6" r="2.5"/>
<circle cx="1038.2" cy="923.2" r="2.5"/>
<circle cx="1042.8" cy="924.1" r="2.5"/>
<circle cx="1045.6" cy="927.2" r="2.5"/>
<circle cx="1050.2" cy="929.1" r="2.5"/>
<circle cx="1053.2" cy="935.9" r="2.5"/>
<circle cx="1057.5" cy="937.8" r="2.5"/>
<circle cx="1061.7" cy="939" r="2.5"/>
<circle cx="1065.4" cy="939.8" r="2.5"/>
<circle cx="1067.4" cy="941.6" r="2.5"/>
<circle cx="1074.4" cy="943.5" r="2.5"/>
<circle cx="1077.3" cy="945" r="2.5"/>
<circle cx="1084" cy="950.6" r="2.5"/>
<circle cx="1086.5" cy="954.1" r="2.5"/>
<circle cx="1089.7" cy="957.1" r="2.5"/>
<circle cx="1092.5" cy="964.8" r="2.5"/>
<circle cx="1096" cy="966.4" r="2.5"/>
<circle cx="1099" cy="967.6" r="2.5"/>
<circle cx="1102.3" cy="968.9" r="2.5"/>
<circle cx="1109.2" cy="971.9" r="2.5"/>
<circle cx="1112.5" cy="972.7" r="2.5"/>
<circle cx="1117.3" cy="975.1" r="2.5"/>
<circle cx="1125.6" cy="979.4" r="2.5"/>
<circle cx="1126.2" cy="981" r="2.5"/>
<circle cx="1130.6" cy="984.2" r="2.5"/>
<circle cx="1134" cy="991.3" r="2.5"/>
<circle cx="1137.7" cy="992.9" r="2.5"/>
<circle cx="1145.3" cy="996.6" r="2.5"/>
<circle cx="1146.8" cy="999.5" r="2.5"/>
<circle cx="1151.2" cy="1002.5" r="2.5"/>
<circle cx="1155.1" cy="1008.2" r="2.5"/>
<circle cx="1158.2" cy="1007.9" r="2.5"/>
<circle cx="1159.9" cy="1011.3" r="2.5"/>
<circle cx="1166.3" cy="1013.4" r="2.5"/>
<circle cx="1170" cy="1015.2" r="2.5"/>
<circle cx="1172.9" cy="1015.8" r="2.5"/>
<circle cx="1177.5" cy="1020.7" r="2.5"/>
<circle cx="1179.2" cy="1020.7" r="2.5"/>
<circle cx="1183.4" cy="1023.6" r="2.5"/>
<circle cx="1189.3" cy="1022.8" r="2.5"/>
<circle cx="1196.4" cy="1025.9" r="2.5"/>
<circle cx="1200.3" cy="1029.5" r="2.5"/>
<circle cx="1204.3" cy="1029.6" r="2.5"/>
<circle cx="1207" cy="1033.5" r="2.5"/>
<circle cx="1211.4" cy="1033.4" r="2.5"/>
<circle cx="1215" cy="1036.1" r="2.5"/>
<circle cx="1221.8" cy="1040.8" r="2.5"/>
<circle cx="1223.5" cy="1042.6" r="2.5"/>
<circle cx="1230" cy="1048.9" r="2.5"/>
<circle cx="1233.6" cy="1050.5" r="2.5"/>
<circle cx="1239.3" cy="1053.6" r="2.5"/>
<circle cx="1241.6" cy="1054.4" r="2.5"/>
<circle cx="1249.3" cy="1061.4" r="2.5"/>
<circle cx="1250.7" cy="1062.2" r="2.5"/>
<circle cx="1253.6" cy="1065" r="2.5"/>
<circle cx="1259.6" cy="1065.8" r="2.5"/>
<circle cx="1264.5" cy="1066.1" r="2.5"/>
<circle cx="1269.3" cy="1069.4" r="2.5"/>
<circle cx="1271.6" cy="1072.6" r="2.5"/>
<circle cx="1276.3" cy="1074.1" r="2.5"/>
<circle cx="1285.3" cy="1078.6" r="2.5"/>
<circle cx="1288.3" cy="1080.4" r="2.5"/>
<circle cx="1294.2" cy="1082.8" r="2.5"/>
<circle cx="1302.7" cy="1086.8" r="2.5"/>
<circle cx="1302.2" cy="1089.7" r="2.5"/>
<circle cx="1304.1" cy="1093.8" r="2.5"/>
<circle cx="1308.7" cy="1097.2" r="2.5"/>
<circle cx="1311.1" cy="1102.2" r="2.5"/>
<circle cx="1313.7" cy="1105.3" r="2.5"/>
<circle cx="1318.4" cy="1110.1" r="2.5"/>
<circle cx="1320.1" cy="1113" r="2.5"/>
<circle cx="1324.5" cy="1116.1" r="2.5"/>
<circle cx="1329" cy="1119.1" r="2.5"/>
<circle cx="1331.7" cy="1121.4" r="2.5"/>
<circle cx="1334.1" cy="1123.9" r="2.5"/>
<circle cx="1336.4" cy="1126.7" r="2.5"/>
<circle cx="1341.8" cy="1128.3" r="2.5"/>
<circle cx="1343.8" cy="1128.1" r="2.5"/>
<circle cx="1347.6" cy="1129.6" r="2.5"/>
<circle cx="1353.3" cy="1130.9" r="2.5"/>
<circle cx="1356.9" cy="1134.6" r="2.5"/>
<circle cx="1360.8" cy="1136.5" r="2.5"/>
<circle cx="1363.8" cy="1135.4" r="2.5"/>
<circle cx="1367.1" cy="1137.3" r="2.5"/>
<circle cx="1374.7" cy="1139.7" r="2.5"/>
<circle cx="1379" cy="1141.8" r="2.5"/>
<circle cx="1383.3" cy="1142.6" r="2.5"/>
<circle cx="1390.7" cy="1142.9" r="2.5"/>
<circle cx="1396" cy="1143.5" r="2.5"/>
<circle cx="1397.6" cy="1144.5" r="2.5"/>
<circle cx="1400.7" cy="1147.5" r="2.5"/>
<circle cx="1408.2" cy="1152.1" r="2.5"/>
<circle cx="1411.7" cy="1154.1" r="2.5"/>
<circle cx="1414.8" cy="1158.4" r="2.5"/>
</g>
<g stroke="#95A92D" stroke-linecap="round" fill="none">
<path stroke-width="5.2" d="M194.5 20.1L279.9 20.1"/>
<path stroke-width="5.6" d="M307.1 19.9L317.4 19.9M321.2 19.9L332.4 19.9M336.2 19.9L354.9 19.9M363.3 19.9L377.4 19.9M394.2 19.9L411.1 19.9M414.9 19.9L439.2 19.9M441.1 19.9L452.3 19.9M459.8 19.9L465.5 19.9M472 19.9L490 19.9M304.3 42.6L317.4 42.6M314.6 38.1L321.2 38.1M354.9 40.9L364.3 40.9M774.8 19.9L790 19.9M720.5 42.6L733.6 42.6M764.5 42.2L783.3 42.2M790 19.9L1090 19.9M1090 20L1418.1 20M1108.1 35.9L1119.7 35.9M424.9 305.4L439.8 305.4M1150.8 458.5L1167.3 458.5"/>
<path stroke-width="7.2" d="M218 27.2L246 27.2"/>
<path stroke-width="5.9" d="M246.2 41.5L278.1 41.5M735.5 19.9L759.8 19.9"/>
<path stroke-width="6" d="M313.7 34.9L323 34.9"/>
<path stroke-width="6.2" d="M247.2 121.3L278.1 121.3M490 19.9L584.6 19.9"/>
<path stroke-width="4.8" d="M355.8 132.7L360.5 140.8M768.3 132.7L773.9 141.2M355 217L360 224M489.9 219L494.9 225M501.9 219L506.9 225M572.8 146L579.8 157M871 157.7L878 163.5M1014.3 192.4L1021.2 187.8M720.8 218.5L725.4 224.7M769.3 216.6L775.1 224.7M960 216.6L965.8 224.7M354.9 215L362.4 226.2M489.8 218.7L494.8 226.2M502.3 218.7L514.8 246.2M488.6 313.7L496.1 322.4M501.1 312.9L508.6 322.4M476.1 331.2L478.6 336.2M719.9 217.5L732.9 243.7M593.7 352.4L601.2 369.9M767.9 311.9L776.1 321.2M958.5 311.9L966.8 320.4M960.5 216.2L965.5 225.5M909.8 246.2L914.8 242.5M1007.9 208.4L1032.6 208.4M1267.6 208.4L1271.7 208.4M1358.3 208.4L1363.8 208.4M1376.1 208.4L1388.5 208.4M1148 475.8L1151.3 481.3M1064.2 550L1067 556.9M748 544.7L756.2 555.7M833.2 612.1L864.8 625.8M987.7 860L997.7 860M996 868.3L1005.9 868.3M1214.5 963.3L1222.8 963.3M1330.1 332.2L1330.1 335.4M1344.6 332.4L1344.6 335.2M1352.3 331.4L1352.3 336.2"/>
<path stroke-width="5" d="M582.8 22.2L587.1 17.1M562.7 47.5L579 72.8M1099.6 121.9L1121.9 121.9M375.9 163.4L379.9 163.4M428.9 163.4L431.9 163.4M443.9 163.4L466.9 163.4M543.8 163.4L557.8 163.4M290 175.4L302 175.4M332 175.4L350 175.4M439.9 175.4L461.9 175.4M474.9 175.4L499.9 175.4M545.8 175.4L556.8 175.4M499.9 180L515.9 180M290 191L302 191M332 191L350 191M377.9 191L383.9 191M441.9 191L447.9 191M453.9 191L461.9 191M479.9 191L499.9 191M544.8 191L556.8 191M735.8 162.8L741.6 162.8M794.8 162.8L798.2 162.8M810.5 162.8L820.2 162.8M835.2 162.8L843.3 162.8M846.8 162.8L861.8 162.8M954.2 162.8L958.8 162.8M1015.5 162.8L1020.1 162.8M1033.9 162.8L1051.3 162.8M737 175L762.4 175M787.8 175L794.8 175M802.8 175L871 175M878 175L884.9 175M890.7 175L903.4 175M909.2 175L918.4 175M924.2 175L928.8 175M954.2 175L958.8 175M1018.9 175L1022.4 175M1035.1 175L1050.1 175M1067.5 175L1070 175M861.8 180.1L884.9 180.1M739.3 190.8L743.9 190.8M750.8 190.8L754.3 190.8M757.8 190.8L762.4 190.8M807.5 190.8L824.8 190.8M834 190.8L861.8 190.8M875.6 190.8L884.9 190.8M909.2 190.8L918.4 190.8M924.2 190.8L928.8 190.8M953.1 190.8L957.7 190.8M1032.8 190.8L1051.3 190.8M792.4 207.9L797.1 207.9M1008.5 207.9L1032.8 207.9M1103.9 163L1127 163M1167.5 163L1186 163M1191.7 163L1205.6 163M1211.4 163L1240.3 163M1354.7 163L1374.3 163M1390.5 163L1399.7 163M1066.9 175L1073.9 175M1109.7 175L1120.1 175M1136.3 175L1142 175M1167.5 175L1205.6 175M1221.8 175L1265.7 175M1277.2 175L1281.9 175M1335 175L1341.9 175M1367.4 175L1402 175M1177.9 179.7L1198.7 179.7M1109.7 190.8L1121.2 190.8M1134 190.8L1143.2 190.8M1167.5 190.8L1181.3 190.8M1191.7 190.8L1201 190.8M1221.8 190.8L1256.4 190.8M1277.2 190.8L1281.9 190.8M1383.5 190.8L1402 190.8M1358.1 203.9L1388.2 203.9M479.8 458.6L487.3 458.6M832.3 361.1L839.8 361.1M844.8 361.1L863.6 361.1M883.6 364.4L891.1 364.4M752.4 302.4L756.1 302.4M752.4 435.3L756.1 435.3M791.1 488.6L796.1 488.6M792.4 208L797.4 208M816.1 281.7L829.9 281.7M822.4 270.4L834.8 270.4M1208.5 458.5L1212.6 458.5M1187.3 473.9L1192 473.9M957.9 738.6L967.9 738.6M981.1 738.6L991 738.6M1150.6 738.6L1166.5 738.6M1216.1 581.4L1222.8 581.4M1336.3 578.4L1352.9 578.4M1055.6 754.2L1061.5 754.2M1020.8 806.5L1026.5 806.5M1007.6 850.2L1014.2 850.2M1105.2 856.1L1111.9 856.1M996 868.1L1005.9 868.1M1207.9 759.5L1212.8 759.5"/>
<path stroke-width="4.5" d="M543 25.4L543 28.4M551.8 26.3L551.8 29.3M559.7 25.4L559.7 28.4M532.2 34.4L532.2 37.4M542.1 34.4L542.1 37.4M739.2 34.4L739.2 37.4M745.8 34.4L745.8 37.4M960.6 689.6L965.2 696.3M966.7 689.6L971.3 696.3M972.8 689.6L977.5 696.3M979 689.6L983.6 696.3M985.1 689.6L989.7 696.3M991.2 689.6L995.8 696.3M997.3 689.6L1002 696.3M1003.5 689.6L1008.1 696.3"/>
<path stroke-width="6.4" d="M561.8 36L579.4 36"/>
<path stroke-width="4.9" d="M827.5 26.9L830.3 26.9M840.6 26.9L845.3 26.9M938 26.9L941.8 26.9M797.5 35.9L805.9 35.9M837.8 35.9L845.3 35.9M919.3 35.9L932.4 35.9M951.1 35.9L957.7 35.9M1023.3 35.9L1033.6 35.9M1063.6 34.7L1071.1 34.7M903.4 42.2L914.6 42.2M933.3 42.2L942.7 42.2M1128.2 121.9L1135.7 121.9M1187.7 121.9L1191.9 121.9M1204.7 121.9L1210 121.9"/>
<path stroke-width="5.1" d="M940.8 120.2L940.8 123"/>
<path stroke-width="8" d="M720.3 177.4L734.2 177.4"/>
<path stroke-width="5.3" d="M499.8 489.1L516 489.1M769.9 216.2L782.4 245M1150.8 513.7L1165.9 527.5"/>
<path stroke-width="4.6" d="M1317.1 1087.5L1324.9 1101.1"/>
<polyline stroke-width="6.2" stroke-linejoin="round" points="192.3,16.2 194.5,23 197.2,30 200,36.2 202,42.5 204.7,48.7 207.8,55 210.9,61.2 214,67.5 217,73.7 220.4,80 224.3,86.2 228,92.5 231.9,99 235.6,105 239.2,109.7 242.5,115 244.9,119.5 249.7,125.5 255,132.2 260.2,140.5 264.7,145 271.5,151 278.2,157.7 280.5,165.2 283.5,172.7 287.2,181.7 291,192.2 293.2,195 297.7,202.5 301.5,211.5 306,219.7 309,228.7 312,237.7 315,246 318,253.5 322.5,260.2"/>
<polyline stroke-width="5.4" stroke-linejoin="round" points="322.5,260.2 327,266.2 330,273.7 333.7,279.7 339.7,285.7 344.2,290 349.5,299 354,308.7 360,317.7 366,325.2 369.7,332 372.7,341 378,349.2 384,358 390,366.5 395.2,373.2 400.5,380 404.5,387 408.5,393.2 413.7,406.7 419.7,414.2 426.5,421 432.5,428.5 437,434.5 443.7,439.7 449.7,444.2 454,452 458.7,465.2 464,471.2 468.5,478 472,484.8 474.6,489.6 483.4,494.9 489.5,502.7 499.1,510.6 508.7,520.2 517.5,529.8 523.6,538.6 529.7,546.5 534.1,554.3 541.1,562.2 548.9,568.3 554.2,575.3 558.6,584.1 564.7,588.4 571.2,590.6"/>
<polyline stroke-width="5" stroke-linejoin="round" points="577,591.4 580.5,593.5 584.8,596.3"/>
<polyline stroke-width="5" stroke-linejoin="round" points="625.7,598.3 628,601.5 640,613.5 655.6,628.2 680,652.5 700,671.9 708.7,677.5 722.5,691.2 727.5,698.7 737.5,707.5 742.5,713.7 746.2,720 752.5,726.2 760,728.7 766.2,733.7 769.3,738.7 785,738.7 792.4,747.5 798.7,750 806.2,758.7 816.2,765 820,771.2 825,771.8 831.2,776.8 843.7,781.2 856.2,787.4 861.2,793 871.2,797.4 875,802.4 880,805.6 887.4,808.7 891.2,812.5 902.5,820 911.2,828.7 922.5,834.4 933.7,840.6 942.5,845.6 950,849.3 956.2,854.3 961.2,857.5 968.7,858.7 974.9,866.2"/>
<polyline stroke-width="4.3" stroke-linejoin="round" points="974.9,866.2 1008.7,901.2 1017.4,907.4 1027.4,916.2 1036.2,921.2 1044.9,924.9 1054.9,936.2 1062.4,939.9 1071.2,943.1 1077.5,944.4 1085.4,953.1 1093.7,964.4 1105.6,969.7 1112.5,971.8 1121.2,977.5 1128.7,983.7 1135,991.2 1141.2,996.2 1147.4,998.7 1156.2,1007.5 1166.2,1014.3 1174.9,1017.4 1182.4,1022.4 1188.7,1023.7 1197.4,1026.8 1208.7,1033.1 1218.6,1038.7 1226.1,1046.2 1232.4,1049.3 1239.9,1053.7 1246.1,1058.7 1253.6,1063.7 1266.1,1067.9 1275.6,1074.4 1286.3,1079.8 1293.4,1081.5 1299.3,1083.3 1306.5,1095.8 1316,1107.6 1325.5,1117.1 1334.9,1125.5 1346.8,1129 1358.7,1134.9 1367,1137.3 1377.7,1140.9 1388.4,1142.1 1396.7,1144.4 1403.8,1151 1410.9,1152.7 1414.5,1157.5 1419.2,1158.3"/>
</g>
<g stroke="#000" stroke-width="2.2" fill="none">
<rect x="192.3" y="16.0" width="1226.7" height="1142.2"/>
<path d="M413.8 1158.2v-13 M413.8 16.2v13M635.3 1158.2v-13 M635.3 16.2v13M856.8 1158.2v-13 M856.8 16.2v13M1078.3 1158.2v-13 M1078.3 16.2v13M1299.8 1158.2v-13 M1299.8 16.2v13M192.3 127.0h13 M1419.0 127.0h-13M192.3 237.7h13 M1419.0 237.7h-13M192.3 348.4h13 M1419.0 348.4h-13M192.3 459.2h13 M1419.0 459.2h-13M192.3 570.0h13 M1419.0 570.0h-13M192.3 680.7h13 M1419.0 680.7h-13M192.3 791.5h13 M1419.0 791.5h-13M192.3 902.2h13 M1419.0 902.2h-13M192.3 1012.9h13 M1419.0 1012.9h-13M192.3 1123.7h13 M1419.0 1123.7h-13"/>
</g>
<g stroke="#95A92D" stroke-linecap="round" fill="none">
<path stroke-width="5.2" d="M194.5 20.1L279.9 20.1"/>
<path stroke-width="5.6" d="M307.1 19.9L317.4 19.9"/>
<path stroke-width="5.6" d="M321.2 19.9L332.4 19.9"/>
<path stroke-width="5.6" d="M336.2 19.9L354.9 19.9"/>
<path stroke-width="5.6" d="M363.3 19.9L377.4 19.9"/>
<path stroke-width="5.6" d="M394.2 19.9L411.1 19.9"/>
<path stroke-width="5.6" d="M414.9 19.9L439.2 19.9"/>
<path stroke-width="5.6" d="M441.1 19.9L452.3 19.9"/>
<path stroke-width="5.6" d="M459.8 19.9L465.5 19.9"/>
<path stroke-width="5.6" d="M472 19.9L490 19.9"/>
<path stroke-width="6.2" d="M490 19.9L584.6 19.9"/>
<path stroke-width="5.9" d="M735.5 19.9L759.8 19.9"/>
<path stroke-width="5.6" d="M774.8 19.9L790 19.9"/>
<path stroke-width="5.6" d="M790 19.9L1090 19.9"/>
<path stroke-width="5.6" d="M1090 20L1418.1 20"/>
</g>
<circle cx="393.3" cy="19.4" r="15.4" fill="#E32C00"/>
<circle cx="457.6" cy="20.3" r="15.4" fill="#E32C00"/>
<circle cx="923.6" cy="19.4" r="12.2" fill="#1F7499"/>
<circle cx="1085.1" cy="20.3" r="8.4" fill="#4C9C9E"/>
<circle cx="1085.8" cy="20.8" r="7.2" fill="#CFA20E"/>
<circle cx="1147.3" cy="19.6" r="15.5" fill="#E32C00"/>
<circle cx="1419.6" cy="18.8" r="15.5" fill="#E32C00"/>
<circle cx="1418.7" cy="19.6" r="15.5" fill="#03424C"/>
<circle cx="766.4" cy="20.3" r="4.8" fill="#82A545"/>
<circle cx="1299.7" cy="20.3" r="11.6" fill="#E69C00"/>
<circle cx="1302.9" cy="20.3" r="11.6" fill="#E69C00"/>
<circle cx="1306.2" cy="20.3" r="11.6" fill="#E69C00"/>
<circle cx="1309.4" cy="20.3" r="11.6" fill="#E69C00"/>
<circle cx="1312.7" cy="19.5" r="11.6" fill="#E69C00"/>
<circle cx="1315.9" cy="20.3" r="11.6" fill="#E69C00"/>
<circle cx="1319.1" cy="20.3" r="11.6" fill="#E69C00"/>
<circle cx="1322.4" cy="20.3" r="11.6" fill="#E69C00"/>
<circle cx="1325.6" cy="20.3" r="11.6" fill="#E69C00"/>
<circle cx="394.6" cy="176.8" r="15.4" fill="#03424C"/>
<circle cx="393.4" cy="179" r="15.5" fill="#E32C00"/>
<circle cx="442.3" cy="157.4" r="4.5" fill="#88A745"/>
<circle cx="1085.9" cy="163" r="9.2" fill="#D9A300"/>
<circle cx="1085.9" cy="175" r="9" fill="#4E999C"/>
<circle cx="1085.9" cy="190.8" r="9.2" fill="#D9A300"/>
<circle cx="1313.5" cy="176" r="12.3" fill="#2B7DAB"/>
<circle cx="1313.5" cy="179.1" r="12.5" fill="#E69C00"/>
<circle cx="1315.5" cy="204.6" r="12.5" fill="#E87800"/>
<circle cx="1317.6" cy="201.5" r="12" fill="#2B7DAB"/>
<circle cx="1321.5" cy="202" r="12" fill="#2B7DAB"/>
<circle cx="1325.2" cy="202.5" r="12" fill="#2B7DAB"/>
<circle cx="1370" cy="179.7" r="6.3" fill="#A8A81E"/>
<circle cx="1418.9" cy="162.3" r="15" fill="#E33500"/>
<circle cx="1418.9" cy="175" r="15" fill="#03424C"/>
<circle cx="1418.9" cy="190.8" r="15" fill="#E33500"/>
<circle cx="393.6" cy="349.1" r="15.5" fill="#003E44"/>
<circle cx="413.4" cy="403.6" r="6.4" fill="#6BA37A"/>
<circle cx="413.4" cy="404.9" r="6.4" fill="#B5A71C"/>
<circle cx="458" cy="458.5" r="15.4" fill="#E32C00"/>
<circle cx="458" cy="464.5" r="15.4" fill="#003E44"/>
<circle cx="1147.5" cy="339.8" r="15.5" fill="#03424C"/>
<circle cx="1147.5" cy="342.2" r="15.6" fill="#E32C00"/>
<circle cx="1303.1" cy="341.3" r="12.6" fill="#2B7DAB"/>
<path d="M1290.5 342.8A12.6 12.6 0 0 0 1315.7 342.8L1306.1 339.8L1290.9 339.8Z" fill="#E69C00"/>
<circle cx="1315.9" cy="339.8" r="12.6" fill="#1F76A3"/>
<circle cx="1313.7" cy="348.3" r="12.6" fill="#2B7DAB"/>
<circle cx="1315.9" cy="342.2" r="12.2" fill="#E88000"/>
<circle cx="1317.6" cy="342.2" r="12.2" fill="#E69C00"/>
<circle cx="1319.4" cy="342.2" r="12.2" fill="#E69C00"/>
<circle cx="1321.3" cy="342.2" r="12.2" fill="#E69C00"/>
<circle cx="1323.1" cy="342.2" r="12.2" fill="#E69C00"/>
<circle cx="1325" cy="342.2" r="12.2" fill="#E69C00"/>
<circle cx="1300" cy="455.4" r="12.2" fill="#E8A000"/>
<circle cx="1300" cy="464.3" r="12.5" fill="#2B7DAB"/>
<circle cx="1370.1" cy="562.5" r="6.5" fill="#6FA060"/>
<circle cx="923.8" cy="713.1" r="12.3" fill="#E67D00"/>
<circle cx="1085.4" cy="951.9" r="6.2" fill="#6BA37A"/>
<circle cx="1085.4" cy="953.1" r="6.2" fill="#B8A818"/>
<circle cx="1316" cy="1107.4" r="12.5" fill="#1D6E92"/>
<g fill="#95A92D">
<circle cx="399.9" cy="35.3" r="2.5"/><circle cx="463.2" cy="35.3" r="2.5"/><circle cx="463.2" cy="36.8" r="2.5"/><circle cx="929.6" cy="26.9" r="2.5"/><circle cx="410.9" cy="180" r="2.5"/><circle cx="400.9" cy="169" r="2.5"/><circle cx="407.9" cy="167" r="2.5"/><circle cx="396.9" cy="176" r="2.5"/><circle cx="400.9" cy="185" r="2.5"/><circle cx="396.9" cy="191" r="2.5"/><circle cx="1092.4" cy="157" r="2.5"/><circle cx="1092.4" cy="161.2" r="2.5"/><circle cx="1087.7" cy="179.7" r="2.5"/><circle cx="419.9" cy="403.6" r="2.5"/><circle cx="1330.8" cy="333.5" r="2.5"/><circle cx="937.1" cy="715.5" r="2.5"/><circle cx="421.2" cy="408.6" r="2.5"/><circle cx="465.2" cy="467.1" r="2.5"/><circle cx="1086.9" cy="952" r="2.5"/><circle cx="1316.8" cy="1102.9" r="2.5"/><circle cx="1324.5" cy="1111.1" r="2.5"/><circle cx="1324.3" cy="1112.4" r="2.5"/><circle cx="460.7" cy="466.8" r="2.5"/><circle cx="467.9" cy="477.1" r="2.5"/><circle cx="1086.5" cy="954.1" r="2.5"/><circle cx="1089.7" cy="957.1" r="2.5"/><circle cx="1318.4" cy="1110.1" r="2.5"/><circle cx="1320.1" cy="1113" r="2.5"/><circle cx="1324.5" cy="1116.1" r="2.5"/>
<circle cx="395.1" cy="351.1" r="2.9"/>
<circle cx="398.1" cy="352.3" r="2.6"/>
<circle cx="396.4" cy="348.6" r="2.5"/>
<circle cx="396.5" cy="176" r="2.5"/>
<circle cx="400.9" cy="169" r="2.5"/>
<circle cx="400.5" cy="185" r="2.5"/>
<circle cx="396.9" cy="191.4" r="2.5"/>
<circle cx="401.9" cy="165" r="2.5"/>
<circle cx="1087.9" cy="190.8" r="2.5"/>
<circle cx="1327" cy="203.1" r="3"/>
<circle cx="1329.3" cy="203.1" r="3"/>
<circle cx="1087.9" cy="175" r="2.5"/>
<circle cx="1085.9" cy="181" r="2.5"/>
<circle cx="1418.7" cy="24.6" r="2.5"/>
<circle cx="1330.1" cy="332.4" r="2.5"/>
<circle cx="1330.1" cy="335.2" r="2.5"/>
</g>
<g stroke="#95A92D" stroke-linecap="round" fill="none"><path stroke-width="5.6" d="M394.2 19.9L411.1 19.9"/><path stroke-width="5.6" d="M459.8 19.9L465.5 19.9"/><path stroke-width="5.6" d="M472 19.9L475.3 19.9"/><path stroke-width="5.6" d="M924.4 19.9L938 19.9"/><path stroke-width="5.6" d="M1086.8 19.9L1090 19.9"/><path stroke-width="5.6" d="M1090 20L1095.6 20"/><path stroke-width="5.6" d="M1148.4 20L1165.2 20"/><path stroke-width="5.6" d="M1326.9 20L1339.7 20"/><path stroke-width="5" d="M1370.6 175L1377 175"/><path stroke-width="4.6" d="M1320.8 1093.9L1324.9 1101.1"/><path stroke-width="4.8" d="M1330.1 332.2L1330.1 335.4"/><path stroke-width="5.4" d="M414.2 407.3L418.2 412.3"/><path stroke-width="5.4" d="M458.7 465.2L458.7 465.2"/><path stroke-width="5.4" d="M458.7 465.2L464 471.2"/><path stroke-width="5.4" d="M464 471.2L468.5 478"/><path stroke-width="5.4" d="M468.5 478L468.9 478.8"/><path stroke-width="4.3" d="M1086.4 954.4L1090.3 959.7"/><path stroke-width="4.3" d="M1316.6 1108.2L1325.5 1117.1"/><path stroke-width="4.3" d="M1325.5 1117.1L1326.1 1117.7"/></g>
<text font-size="50.8" text-anchor="end" transform="translate(174.7 35.9) scale(0.965 1)">0</text>
<text font-size="50.8" text-anchor="end" transform="translate(172.4 146.7) scale(0.965 1)">100</text>
<text font-size="50.8" text-anchor="end" transform="translate(172.4 257.4) scale(0.965 1)">200</text>
<text font-size="50.8" text-anchor="end" transform="translate(172.4 368.1) scale(0.965 1)">300</text>
<text font-size="50.8" text-anchor="end" transform="translate(172.4 478.9) scale(0.965 1)">400</text>
<text font-size="50.8" text-anchor="end" transform="translate(172.4 589.7) scale(0.965 1)">500</text>
<text font-size="50.8" text-anchor="end" transform="translate(172.4 700.4) scale(0.965 1)">600</text>
<text font-size="50.8" text-anchor="end" transform="translate(172.4 811.2) scale(0.965 1)">700</text>
<text font-size="50.8" text-anchor="end" transform="translate(172.4 921.9) scale(0.965 1)">800</text>
<text font-size="50.8" text-anchor="end" transform="translate(172.4 1032.6) scale(0.965 1)">900</text>
<text font-size="50.8" text-anchor="end" transform="translate(172.4 1143.4) scale(0.965 1)">1000</text>
<text font-size="50.8" text-anchor="middle" transform="translate(190.8 1224.3) scale(0.968 1)">0</text>
<text font-size="50.8" text-anchor="middle" transform="translate(412.3 1224.3) scale(0.968 1)">200</text>
<text font-size="50.8" text-anchor="middle" transform="translate(633.8 1224.3) scale(0.968 1)">400</text>
<text font-size="50.8" text-anchor="middle" transform="translate(855.3 1224.3) scale(0.968 1)">600</text>
<text font-size="50.8" text-anchor="middle" transform="translate(1076.8 1224.3) scale(0.968 1)">800</text>
<text font-size="50.8" text-anchor="middle" transform="translate(1298.3 1224.3) scale(0.968 1)">1000</text>
<text font-size="55.6" text-anchor="middle" transform="translate(797.8 1288.0) scale(0.960 1)">Number of columns/reactions</text>
<text font-size="55.6" text-anchor="middle" transform="translate(809.6 1353.7) scale(0.959 1)">(4863 nonzero elements)</text>
<text font-size="55.6" text-anchor="middle" transform="translate(41 594.2) rotate(-90) scale(0.962 1)">Number of rows/metabolites</text>
<rect x="1452.6" y="15.60" width="70.0" height="18.46" fill="#E42E00"/>
<rect x="1452.6" y="33.46" width="70.0" height="18.46" fill="#E43500"/>
<rect x="1452.6" y="51.31" width="70.0" height="18.46" fill="#E43C00"/>
<rect x="1452.6" y="69.17" width="70.0" height="18.46" fill="#E44400"/>
<rect x="1452.6" y="87.03" width="70.0" height="18.46" fill="#E54B00"/>
<rect x="1452.6" y="104.88" width="70.0" height="18.46" fill="#E55300"/>
<rect x="1452.6" y="122.74" width="70.0" height="18.46" fill="#E55A00"/>
<rect x="1452.6" y="140.59" width="70.0" height="18.46" fill="#E56100"/>
<rect x="1452.6" y="158.45" width="70.0" height="18.46" fill="#E56900"/>
<rect x="1452.6" y="176.31" width="70.0" height="18.46" fill="#E57000"/>
<rect x="1452.6" y="194.16" width="70.0" height="18.46" fill="#E57700"/>
<rect x="1452.6" y="212.02" width="70.0" height="18.46" fill="#E57F00"/>
<rect x="1452.6" y="229.88" width="70.0" height="18.46" fill="#E68600"/>
<rect x="1452.6" y="247.73" width="70.0" height="18.46" fill="#E68E00"/>
<rect x="1452.6" y="265.59" width="70.0" height="18.46" fill="#E69500"/>
<rect x="1452.6" y="283.44" width="70.0" height="18.46" fill="#E69C00"/>
<rect x="1452.6" y="301.30" width="70.0" height="18.46" fill="#E4A001"/>
<rect x="1452.6" y="319.16" width="70.0" height="18.46" fill="#DEA104"/>
<rect x="1452.6" y="337.01" width="70.0" height="18.46" fill="#DAA107"/>
<rect x="1452.6" y="354.87" width="70.0" height="18.46" fill="#D4A20A"/>
<rect x="1452.6" y="372.73" width="70.0" height="18.46" fill="#D0A20D"/>
<rect x="1452.6" y="390.58" width="70.0" height="18.46" fill="#CAA310"/>
<rect x="1452.6" y="408.44" width="70.0" height="18.46" fill="#C6A313"/>
<rect x="1452.6" y="426.29" width="70.0" height="18.46" fill="#C0A416"/>
<rect x="1452.6" y="444.15" width="70.0" height="18.46" fill="#BCA419"/>
<rect x="1452.6" y="462.01" width="70.0" height="18.46" fill="#B6A51C"/>
<rect x="1452.6" y="479.86" width="70.0" height="18.46" fill="#B2A51F"/>
<rect x="1452.6" y="497.72" width="70.0" height="18.46" fill="#ACA622"/>
<rect x="1452.6" y="515.58" width="70.0" height="18.46" fill="#A8A625"/>
<rect x="1452.6" y="533.43" width="70.0" height="18.46" fill="#A2A728"/>
<rect x="1452.6" y="551.29" width="70.0" height="18.46" fill="#9EA72B"/>
<rect x="1452.6" y="569.14" width="70.0" height="18.46" fill="#98A82E"/>
<rect x="1452.6" y="587.00" width="70.0" height="18.46" fill="#93A733"/>
<rect x="1452.6" y="604.86" width="70.0" height="18.46" fill="#8DA53C"/>
<rect x="1452.6" y="622.71" width="70.0" height="18.46" fill="#86A245"/>
<rect x="1452.6" y="640.57" width="70.0" height="18.46" fill="#80A04E"/>
<rect x="1452.6" y="658.43" width="70.0" height="18.46" fill="#7A9E57"/>
<rect x="1452.6" y="676.28" width="70.0" height="18.46" fill="#739C5F"/>
<rect x="1452.6" y="694.14" width="70.0" height="18.46" fill="#6D9968"/>
<rect x="1452.6" y="711.99" width="70.0" height="18.46" fill="#679771"/>
<rect x="1452.6" y="729.85" width="70.0" height="18.46" fill="#60957A"/>
<rect x="1452.6" y="747.71" width="70.0" height="18.46" fill="#5A9383"/>
<rect x="1452.6" y="765.56" width="70.0" height="18.46" fill="#54908C"/>
<rect x="1452.6" y="783.42" width="70.0" height="18.46" fill="#4D8E94"/>
<rect x="1452.6" y="801.28" width="70.0" height="18.46" fill="#478C9D"/>
<rect x="1452.6" y="819.13" width="70.0" height="18.46" fill="#418AA6"/>
<rect x="1452.6" y="836.99" width="70.0" height="18.46" fill="#3A87AF"/>
<rect x="1452.6" y="854.84" width="70.0" height="18.46" fill="#3485B8"/>
<rect x="1452.6" y="872.70" width="70.0" height="18.46" fill="#2F82B8"/>
<rect x="1452.6" y="890.56" width="70.0" height="18.46" fill="#2C7DB1"/>
<rect x="1452.6" y="908.41" width="70.0" height="18.46" fill="#2979A9"/>
<rect x="1452.6" y="926.27" width="70.0" height="18.46" fill="#2674A1"/>
<rect x="1452.6" y="944.13" width="70.0" height="18.46" fill="#23709A"/>
<rect x="1452.6" y="961.98" width="70.0" height="18.46" fill="#206B92"/>
<rect x="1452.6" y="979.84" width="70.0" height="18.46" fill="#1D678A"/>
<rect x="1452.6" y="997.69" width="70.0" height="18.46" fill="#1A6283"/>
<rect x="1452.6" y="1015.55" width="70.0" height="18.46" fill="#175E7B"/>
<rect x="1452.6" y="1033.41" width="70.0" height="18.46" fill="#145974"/>
<rect x="1452.6" y="1051.26" width="70.0" height="18.46" fill="#11556C"/>
<rect x="1452.6" y="1069.12" width="70.0" height="18.46" fill="#0E5064"/>
<rect x="1452.6" y="1086.98" width="70.0" height="18.46" fill="#0B4C5D"/>
<rect x="1452.6" y="1104.83" width="70.0" height="18.46" fill="#084755"/>
<rect x="1452.6" y="1122.69" width="70.0" height="18.46" fill="#05434D"/>
<rect x="1452.6" y="1140.54" width="70.0" height="18.46" fill="#023E46"/>
<g stroke="#000" stroke-width="2.2" fill="none">
<rect x="1452.6" y="15.6" width="70.0" height="1142.8"/>
<path d="M1522.6 1094.9h-12"/>
<path d="M1522.6 968.5h-12"/>
<path d="M1522.6 842.2h-12"/>
<path d="M1522.6 715.8h-12"/>
<path d="M1522.6 589.4h-12"/>
<path d="M1522.6 463.0h-12"/>
<path d="M1522.6 336.6h-12"/>
<path d="M1522.6 210.3h-12"/>
<path d="M1522.6 83.9h-12"/>
</g>
<text font-size="44.6" text-anchor="start" transform="translate(1538.6 1112.0) scale(0.918 1)">-40</text>
<text font-size="44.6" text-anchor="start" transform="translate(1538.6 985.5) scale(0.918 1)">-30</text>
<text font-size="44.6" text-anchor="start" transform="translate(1538.6 858.9) scale(0.918 1)">-20</text>
<text font-size="44.6" text-anchor="start" transform="translate(1538.6 732.4) scale(0.918 1)">-10</text>
<text font-size="44.6" text-anchor="start" transform="translate(1538.0 605.9) scale(0.918 1)">0</text>
<text font-size="44.6" text-anchor="start" transform="translate(1538.0 479.4) scale(0.918 1)">10</text>
<text font-size="44.6" text-anchor="start" transform="translate(1538.0 352.9) scale(0.918 1)">20</text>
<text font-size="44.6" text-anchor="start" transform="translate(1538.0 226.3) scale(0.918 1)">30</text>
<text font-size="44.6" text-anchor="start" transform="translate(1538.0 99.8) scale(0.918 1)">40</text>
</svg></body></html>
